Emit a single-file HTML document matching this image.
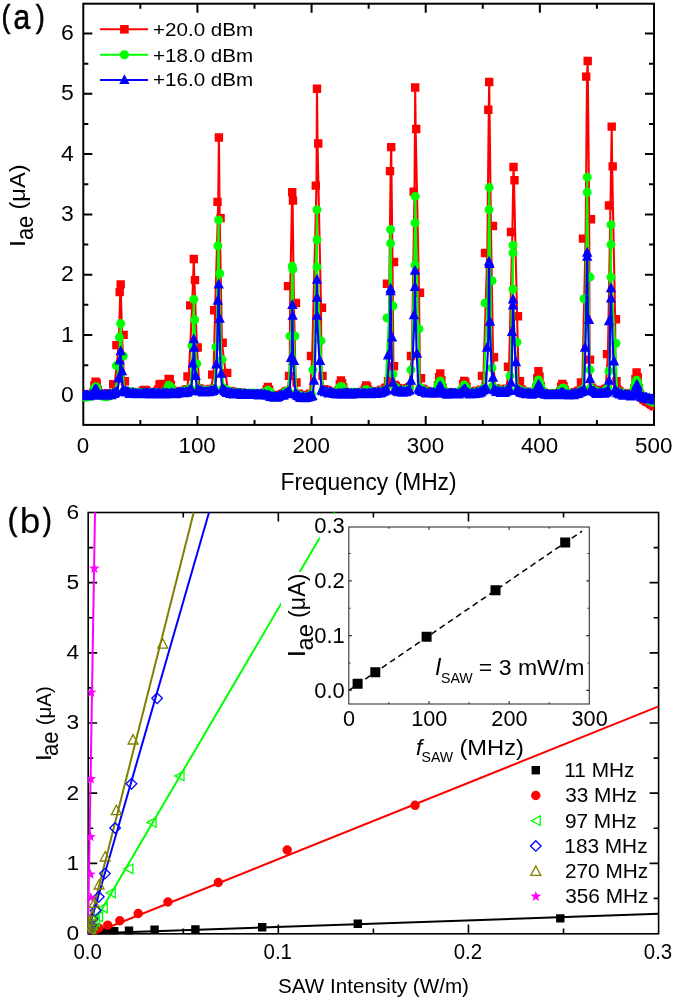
<!DOCTYPE html>
<html><head><meta charset="utf-8"><style>
html,body{margin:0;padding:0;background:#fff;overflow:hidden;}
svg{display:block;will-change:transform;}
text{font-family:"Liberation Sans", sans-serif;fill:#000;}
</style></head><body>
<svg width="675" height="1001" viewBox="0 0 675 1001">
<rect width="675" height="1001" fill="#fff"/>
<rect x="83.3" y="3.7" width="570.7" height="421.2" fill="none" stroke="#000" stroke-width="2"/>
<path d="M197.44 424.9v-9M197.44 3.7v9M311.58 424.9v-9M311.58 3.7v9M425.72 424.9v-9M425.72 3.7v9M539.86 424.9v-9M539.86 3.7v9M140.37 424.9v-5M140.37 3.7v5M254.51 424.9v-5M254.51 3.7v5M368.65 424.9v-5M368.65 3.7v5M482.79 424.9v-5M482.79 3.7v5M596.93 424.9v-5M596.93 3.7v5M83.3 395.3h9M654 395.3h-9M83.3 335h9M654 335h-9M83.3 274.7h9M654 274.7h-9M83.3 214.4h9M654 214.4h-9M83.3 154.1h9M654 154.1h-9M83.3 93.8h9M654 93.8h-9M83.3 33.5h9M654 33.5h-9M83.3 365.15h5M654 365.15h-5M83.3 304.85h5M654 304.85h-5M83.3 244.55h5M654 244.55h-5M83.3 184.25h5M654 184.25h-5M83.3 123.95h5M654 123.95h-5M83.3 63.65h5M654 63.65h-5" stroke="#000" stroke-width="2" fill="none"/>
<defs><clipPath id="cpa"><rect x="82.3" y="2.3" width="572.0" height="423.6"/></clipPath></defs>
<g clip-path="url(#cpa)">
<path d="M83 395.31L84.14 394.19L85.28 394.31L86.42 395.1L87.57 394.71L88.71 394.77L89.85 394.43L90.99 394.13L92.13 394.61L93.27 392.16L94.41 385.43L95.56 381.61L96.7 383.06L97.84 390.04L98.98 393.17L100.12 393.89L101.26 394.8L102.4 393.64L103.55 393.65L104.69 394.93L105.83 394.85L106.97 393.92L108.11 393.16L109.25 393.85L110.39 393.89L111.54 393.28L114.7 384.27L118.77 345.14L120.25 292.16L120.7 284.33L122 334.9L124.06 381.26L126.37 391.13L127.51 391.45L128.66 391.59L129.8 391.86L130.94 392.55L132.08 392.76L133.22 392.95L134.36 392.7L135.5 393.06L136.65 393.56L137.79 392.35L138.93 392.84L140.07 392.73L141.21 393.34L142.35 391.46L143.49 390.22L144.64 390.03L145.78 390.08L146.92 391.09L148.06 392.28L149.2 392.32L150.34 393.19L151.48 392.55L152.63 392.8L153.77 393.36L154.91 392.9L156.05 392.29L157.19 391.47L158.33 389.16L159.47 384.65L160.62 383.89L161.76 386.78L162.9 389.99L164.04 392.47L165.18 392.92L166.32 390.43L167.46 384.99L168.61 378.96L169.75 379.23L170.89 385.01L172.03 390.15L173.17 391.7L174.31 392.43L175.45 392.59L176.59 392.36L177.74 392.97L178.88 392.83L180.02 391.65L181.16 391.04L182.3 391.44L183.44 391.48L184.58 391.5L185.73 390.55L186.87 389.24L188.76 376.44L192.18 305.4L193.8 259.05L194.34 280.12L196.92 347.54L199.42 388.48L200.56 389.5L201.71 389.47L202.85 390.78L203.99 390.54L205.13 389.96L206.27 390.56L207.41 390.66L208.55 390.78L209.7 390.04L210.84 388.96L213.54 374.63L215.14 310.22L218.27 201.86L218.9 137.45L219.66 218.11L221.94 342.73L225.54 372.83L227.96 391.6L229.1 390.87L230.24 391.19L231.38 391.39L232.52 391.87L233.66 391.97L234.81 392.59L235.95 392.67L237.09 393L238.23 393.69L239.37 392.51L240.51 393.06L241.65 393.71L242.8 393.29L243.94 393.37L245.08 393.62L246.22 393.68L247.36 393.42L248.5 393.32L249.64 393.37L250.79 393.64L251.93 394.34L253.07 394.04L254.21 394.15L255.35 393.53L256.49 393.11L257.63 393.22L258.78 393.23L259.92 393.21L261.06 394.09L262.2 393.19L263.34 393.48L264.48 394L265.62 392.43L266.77 389.5L267.91 386.88L269.05 389.78L270.19 393.48L271.33 394.83L272.47 396.19L273.61 397.12L274.76 396.96L275.9 396.11L277.04 396.38L278.18 395.89L279.32 394.85L280.46 394.83L281.6 394.53L282.75 393.7L283.89 393.72L285.03 392.32L286.17 391.34L287.31 391.04L289.64 375.84L290.31 286.14L292.2 192.23L292.56 200.66L293.91 303L295.64 382.46L297.58 394.06L298.72 393.7L299.87 394.94L301.01 395.85L302.15 395.52L303.29 395.33L304.43 396.61L305.57 396.53L306.71 396.13L307.86 394.9L309 395.27L310.14 393.7L312.2 355.97L316.46 185.61L317 88.68L317.54 143.47L321 307.81L321.4 375.84L323.84 389.17L324.98 389.81L326.12 390.94L327.26 390.24L328.4 390.9L329.54 391.64L330.68 392.33L331.83 391.86L332.97 392.41L334.11 392.25L335.25 392.75L336.39 392.29L337.53 392.73L338.67 390.12L339.81 384.21L340.96 380.4L342.1 383.14L343.24 387.56L344.38 391.92L345.52 392.03L346.66 392.52L347.8 393.06L348.95 393.33L350.09 393.71L351.23 392.35L352.37 393.67L353.51 392.44L354.65 392.21L355.79 392.82L356.94 393.43L358.08 392.33L359.22 392.15L360.36 392.55L361.5 392.79L362.64 392.65L363.78 391.31L364.93 388.6L366.07 385.52L367.21 386.95L368.35 390.35L369.49 392.45L370.63 392.12L371.77 392.72L372.92 392.32L374.06 392.48L375.2 391.49L376.34 391.29L377.48 392.48L378.62 391.96L379.76 391.47L380.91 390.07L382.05 389.92L383.19 390.01L384.33 389.43L385.47 387.7L388.64 381.26L389.31 283.73L390.66 171.16L391.2 147.08L392.46 262.06L393.44 366.21L394.6 384.85L395.74 386.08L396.88 388.09L398.03 388.06L399.17 388.94L400.31 389.64L401.45 389.08L402.59 390.35L403.73 389.55L404.87 390.39L406.02 389.95L407.16 388.32L408.3 388.73L409.44 386.92L411.84 355.97L414.52 191.63L415.2 87.48L415.65 129.02L419.04 292.76L419.84 378.25L422 388.63L423.14 389.09L424.28 390.48L425.42 391.02L426.56 391.49L427.7 390.9L428.84 391.56L429.99 391.22L431.13 391.49L432.27 392.81L433.41 392.27L434.55 393.05L435.69 393L436.83 391.51L437.98 385.19L439.12 377.08L440.26 373.52L441.4 380.11L442.54 387.65L443.68 391.34L444.82 392.95L445.97 392.8L447.11 393.37L448.25 393.6L449.39 393.32L450.53 392.36L451.67 392.87L452.81 392.31L453.95 393.04L455.1 393.33L456.24 392.52L457.38 392.45L458.52 393.71L459.66 392.6L460.8 392.95L461.94 390.51L463.09 384.08L464.23 381L465.37 382.41L466.51 386.78L467.65 391.41L468.79 393.02L469.93 393.05L471.08 392.86L472.22 391.96L473.36 392.83L474.5 391.4L475.64 392.04L476.78 390.86L477.92 390.65L479.07 391.21L480.21 390.77L481.35 389.76L483.44 375.84L487.31 253.03L488.8 109.75L489.2 82.06L490.91 225.94L493.04 357.18L495.05 388.36L496.19 388.45L497.33 390.1L498.47 390.63L499.61 389.43L500.75 390.68L501.89 390.27L503.04 390.43L504.18 390.45L505.32 390.49L506.46 388.63L509.1 366.81L512.38 231.96L513.5 166.94L513.95 180.19L517.1 316.24L518.7 381.26L521.3 389.78L522.44 390.36L523.58 392.16L524.72 392.35L525.86 392.01L527 391.67L528.15 392.55L529.29 392.47L530.43 392.65L531.57 393.39L532.71 393.03L533.85 393.31L534.99 392.25L536.14 387.76L537.28 378.27L538.42 371.16L539.56 376.76L540.7 385.92L541.84 391.53L542.98 392.67L544.13 393.8L545.27 393.99L546.41 393.99L547.55 394.04L548.69 393.24L549.83 393.2L550.97 394.15L552.12 394.12L553.26 393.82L554.4 393.78L555.54 393.77L556.68 394.32L557.82 394.61L558.96 393.69L560.11 391.65L561.25 386.37L562.39 383.98L563.53 386.14L564.67 389.92L565.81 393.24L566.95 393.22L568.09 393.75L569.24 393.11L570.38 394.13L571.52 393.48L572.66 392.88L573.8 393.82L574.94 392.23L576.08 393.15L577.23 391.84L578.37 391.03L579.51 390.65L582.34 382.46L585.59 238.58L587.03 76.64L587.7 60.99L589.19 219.32L589.54 359.58L592.06 387.79L593.21 389.46L594.35 389.84L595.49 389.94L596.63 391.43L597.77 390.82L598.91 392.17L600.05 391.01L601.2 392.29L602.34 391.61L603.48 390.29L604.62 389.83L605.76 388.81L607.94 354.17L610.49 205.47L611.7 126.61L612.15 166.34L615.14 319.25L615.54 381.26L617.18 389.46L618.32 390.64L619.46 391.52L620.6 392.93L621.74 393.01L622.88 393.82L624.02 393.25L625.16 393.56L626.31 394.41L627.45 394.87L628.59 393.6L629.73 393.96L630.87 394.46L632.01 394.4L633.15 392.77L634.3 388.53L635.44 378.96L636.58 372.36L637.72 377.18L638.86 388.01L640 394L641.14 397L642.29 397.84L643.43 399.46L644.57 399.8L645.71 400.93L646.85 401.75L647.99 402.33L649.13 402.22L650.28 403.69L651.42 404.47L652.56 404.92L653.7 406.3" fill="none" stroke="#ff0000" stroke-width="2.1" stroke-linejoin="round"/>
<path d="M78.8 391.11h8.4v8.4h-8.4zM79.94 389.99h8.4v8.4h-8.4zM81.08 390.11h8.4v8.4h-8.4zM82.22 390.9h8.4v8.4h-8.4zM83.37 390.51h8.4v8.4h-8.4zM84.51 390.57h8.4v8.4h-8.4zM85.65 390.23h8.4v8.4h-8.4zM86.79 389.93h8.4v8.4h-8.4zM87.93 390.41h8.4v8.4h-8.4zM89.07 387.96h8.4v8.4h-8.4zM90.21 381.23h8.4v8.4h-8.4zM91.36 377.41h8.4v8.4h-8.4zM92.5 378.86h8.4v8.4h-8.4zM93.64 385.84h8.4v8.4h-8.4zM94.78 388.97h8.4v8.4h-8.4zM95.92 389.69h8.4v8.4h-8.4zM97.06 390.6h8.4v8.4h-8.4zM98.2 389.44h8.4v8.4h-8.4zM99.35 389.45h8.4v8.4h-8.4zM100.49 390.73h8.4v8.4h-8.4zM101.63 390.65h8.4v8.4h-8.4zM102.77 389.72h8.4v8.4h-8.4zM103.91 388.96h8.4v8.4h-8.4zM105.05 389.65h8.4v8.4h-8.4zM106.19 389.69h8.4v8.4h-8.4zM107.34 389.08h8.4v8.4h-8.4zM109 380.07h8.4v8.4h-8.4zM112.2 340.94h8.4v8.4h-8.4zM115.5 287.96h8.4v8.4h-8.4zM116.5 280.13h8.4v8.4h-8.4zM119.4 330.7h8.4v8.4h-8.4zM120.7 377.06h8.4v8.4h-8.4zM122.17 386.93h8.4v8.4h-8.4zM123.31 387.25h8.4v8.4h-8.4zM124.46 387.39h8.4v8.4h-8.4zM125.6 387.66h8.4v8.4h-8.4zM126.74 388.35h8.4v8.4h-8.4zM127.88 388.56h8.4v8.4h-8.4zM129.02 388.75h8.4v8.4h-8.4zM130.16 388.5h8.4v8.4h-8.4zM131.3 388.86h8.4v8.4h-8.4zM132.45 389.36h8.4v8.4h-8.4zM133.59 388.15h8.4v8.4h-8.4zM134.73 388.64h8.4v8.4h-8.4zM135.87 388.53h8.4v8.4h-8.4zM137.01 389.14h8.4v8.4h-8.4zM138.15 387.26h8.4v8.4h-8.4zM139.29 386.02h8.4v8.4h-8.4zM140.44 385.83h8.4v8.4h-8.4zM141.58 385.88h8.4v8.4h-8.4zM142.72 386.89h8.4v8.4h-8.4zM143.86 388.08h8.4v8.4h-8.4zM145 388.12h8.4v8.4h-8.4zM146.14 388.99h8.4v8.4h-8.4zM147.28 388.35h8.4v8.4h-8.4zM148.43 388.6h8.4v8.4h-8.4zM149.57 389.16h8.4v8.4h-8.4zM150.71 388.7h8.4v8.4h-8.4zM151.85 388.09h8.4v8.4h-8.4zM152.99 387.27h8.4v8.4h-8.4zM154.13 384.96h8.4v8.4h-8.4zM155.27 380.45h8.4v8.4h-8.4zM156.42 379.69h8.4v8.4h-8.4zM157.56 382.58h8.4v8.4h-8.4zM158.7 385.79h8.4v8.4h-8.4zM159.84 388.27h8.4v8.4h-8.4zM160.98 388.72h8.4v8.4h-8.4zM162.12 386.23h8.4v8.4h-8.4zM163.26 380.79h8.4v8.4h-8.4zM164.41 374.76h8.4v8.4h-8.4zM165.55 375.03h8.4v8.4h-8.4zM166.69 380.81h8.4v8.4h-8.4zM167.83 385.95h8.4v8.4h-8.4zM168.97 387.5h8.4v8.4h-8.4zM170.11 388.23h8.4v8.4h-8.4zM171.25 388.39h8.4v8.4h-8.4zM172.39 388.16h8.4v8.4h-8.4zM173.54 388.77h8.4v8.4h-8.4zM174.68 388.63h8.4v8.4h-8.4zM175.82 387.45h8.4v8.4h-8.4zM176.96 386.84h8.4v8.4h-8.4zM178.1 387.24h8.4v8.4h-8.4zM179.24 387.28h8.4v8.4h-8.4zM180.38 387.3h8.4v8.4h-8.4zM181.53 386.35h8.4v8.4h-8.4zM182.67 385.04h8.4v8.4h-8.4zM183.3 372.24h8.4v8.4h-8.4zM186 301.2h8.4v8.4h-8.4zM189.6 254.85h8.4v8.4h-8.4zM190.8 275.92h8.4v8.4h-8.4zM193.5 343.34h8.4v8.4h-8.4zM195.22 384.28h8.4v8.4h-8.4zM196.36 385.3h8.4v8.4h-8.4zM197.51 385.27h8.4v8.4h-8.4zM198.65 386.58h8.4v8.4h-8.4zM199.79 386.34h8.4v8.4h-8.4zM200.93 385.76h8.4v8.4h-8.4zM202.07 386.36h8.4v8.4h-8.4zM203.21 386.46h8.4v8.4h-8.4zM204.35 386.58h8.4v8.4h-8.4zM205.5 385.84h8.4v8.4h-8.4zM206.64 384.76h8.4v8.4h-8.4zM208 370.43h8.4v8.4h-8.4zM210 306.02h8.4v8.4h-8.4zM213.3 197.66h8.4v8.4h-8.4zM214.7 133.25h8.4v8.4h-8.4zM216.4 213.91h8.4v8.4h-8.4zM218.5 338.53h8.4v8.4h-8.4zM223 368.63h8.4v8.4h-8.4zM223.76 387.4h8.4v8.4h-8.4zM224.9 386.67h8.4v8.4h-8.4zM226.04 386.99h8.4v8.4h-8.4zM227.18 387.19h8.4v8.4h-8.4zM228.32 387.67h8.4v8.4h-8.4zM229.46 387.77h8.4v8.4h-8.4zM230.61 388.39h8.4v8.4h-8.4zM231.75 388.47h8.4v8.4h-8.4zM232.89 388.8h8.4v8.4h-8.4zM234.03 389.49h8.4v8.4h-8.4zM235.17 388.31h8.4v8.4h-8.4zM236.31 388.86h8.4v8.4h-8.4zM237.45 389.51h8.4v8.4h-8.4zM238.6 389.09h8.4v8.4h-8.4zM239.74 389.17h8.4v8.4h-8.4zM240.88 389.42h8.4v8.4h-8.4zM242.02 389.48h8.4v8.4h-8.4zM243.16 389.22h8.4v8.4h-8.4zM244.3 389.12h8.4v8.4h-8.4zM245.44 389.17h8.4v8.4h-8.4zM246.59 389.44h8.4v8.4h-8.4zM247.73 390.14h8.4v8.4h-8.4zM248.87 389.84h8.4v8.4h-8.4zM250.01 389.95h8.4v8.4h-8.4zM251.15 389.33h8.4v8.4h-8.4zM252.29 388.91h8.4v8.4h-8.4zM253.43 389.02h8.4v8.4h-8.4zM254.58 389.03h8.4v8.4h-8.4zM255.72 389.01h8.4v8.4h-8.4zM256.86 389.89h8.4v8.4h-8.4zM258 388.99h8.4v8.4h-8.4zM259.14 389.28h8.4v8.4h-8.4zM260.28 389.8h8.4v8.4h-8.4zM261.42 388.23h8.4v8.4h-8.4zM262.57 385.3h8.4v8.4h-8.4zM263.71 382.68h8.4v8.4h-8.4zM264.85 385.58h8.4v8.4h-8.4zM265.99 389.28h8.4v8.4h-8.4zM267.13 390.63h8.4v8.4h-8.4zM268.27 391.99h8.4v8.4h-8.4zM269.41 392.92h8.4v8.4h-8.4zM270.56 392.76h8.4v8.4h-8.4zM271.7 391.91h8.4v8.4h-8.4zM272.84 392.18h8.4v8.4h-8.4zM273.98 391.69h8.4v8.4h-8.4zM275.12 390.65h8.4v8.4h-8.4zM276.26 390.63h8.4v8.4h-8.4zM277.4 390.33h8.4v8.4h-8.4zM278.55 389.5h8.4v8.4h-8.4zM279.69 389.52h8.4v8.4h-8.4zM280.83 388.12h8.4v8.4h-8.4zM281.97 387.14h8.4v8.4h-8.4zM283.11 386.84h8.4v8.4h-8.4zM284.8 371.64h8.4v8.4h-8.4zM283.8 281.94h8.4v8.4h-8.4zM288 188.03h8.4v8.4h-8.4zM288.8 196.46h8.4v8.4h-8.4zM291.8 298.8h8.4v8.4h-8.4zM292.3 378.26h8.4v8.4h-8.4zM293.38 389.86h8.4v8.4h-8.4zM294.52 389.5h8.4v8.4h-8.4zM295.67 390.74h8.4v8.4h-8.4zM296.81 391.65h8.4v8.4h-8.4zM297.95 391.32h8.4v8.4h-8.4zM299.09 391.13h8.4v8.4h-8.4zM300.23 392.41h8.4v8.4h-8.4zM301.37 392.33h8.4v8.4h-8.4zM302.51 391.93h8.4v8.4h-8.4zM303.66 390.7h8.4v8.4h-8.4zM304.8 391.07h8.4v8.4h-8.4zM305.94 389.5h8.4v8.4h-8.4zM306.8 351.77h8.4v8.4h-8.4zM311.6 181.41h8.4v8.4h-8.4zM312.8 84.48h8.4v8.4h-8.4zM314 139.27h8.4v8.4h-8.4zM317.8 303.61h8.4v8.4h-8.4zM318.3 371.64h8.4v8.4h-8.4zM319.64 384.97h8.4v8.4h-8.4zM320.78 385.61h8.4v8.4h-8.4zM321.92 386.74h8.4v8.4h-8.4zM323.06 386.04h8.4v8.4h-8.4zM324.2 386.7h8.4v8.4h-8.4zM325.34 387.44h8.4v8.4h-8.4zM326.48 388.13h8.4v8.4h-8.4zM327.63 387.66h8.4v8.4h-8.4zM328.77 388.21h8.4v8.4h-8.4zM329.91 388.05h8.4v8.4h-8.4zM331.05 388.55h8.4v8.4h-8.4zM332.19 388.09h8.4v8.4h-8.4zM333.33 388.53h8.4v8.4h-8.4zM334.47 385.92h8.4v8.4h-8.4zM335.61 380.01h8.4v8.4h-8.4zM336.76 376.2h8.4v8.4h-8.4zM337.9 378.94h8.4v8.4h-8.4zM339.04 383.36h8.4v8.4h-8.4zM340.18 387.72h8.4v8.4h-8.4zM341.32 387.83h8.4v8.4h-8.4zM342.46 388.32h8.4v8.4h-8.4zM343.6 388.86h8.4v8.4h-8.4zM344.75 389.13h8.4v8.4h-8.4zM345.89 389.51h8.4v8.4h-8.4zM347.03 388.15h8.4v8.4h-8.4zM348.17 389.47h8.4v8.4h-8.4zM349.31 388.24h8.4v8.4h-8.4zM350.45 388.01h8.4v8.4h-8.4zM351.59 388.62h8.4v8.4h-8.4zM352.74 389.23h8.4v8.4h-8.4zM353.88 388.13h8.4v8.4h-8.4zM355.02 387.95h8.4v8.4h-8.4zM356.16 388.35h8.4v8.4h-8.4zM357.3 388.59h8.4v8.4h-8.4zM358.44 388.45h8.4v8.4h-8.4zM359.58 387.11h8.4v8.4h-8.4zM360.73 384.4h8.4v8.4h-8.4zM361.87 381.32h8.4v8.4h-8.4zM363.01 382.75h8.4v8.4h-8.4zM364.15 386.15h8.4v8.4h-8.4zM365.29 388.25h8.4v8.4h-8.4zM366.43 387.92h8.4v8.4h-8.4zM367.57 388.52h8.4v8.4h-8.4zM368.72 388.12h8.4v8.4h-8.4zM369.86 388.28h8.4v8.4h-8.4zM371 387.29h8.4v8.4h-8.4zM372.14 387.09h8.4v8.4h-8.4zM373.28 388.28h8.4v8.4h-8.4zM374.42 387.76h8.4v8.4h-8.4zM375.56 387.27h8.4v8.4h-8.4zM376.71 385.87h8.4v8.4h-8.4zM377.85 385.72h8.4v8.4h-8.4zM378.99 385.81h8.4v8.4h-8.4zM380.13 385.23h8.4v8.4h-8.4zM381.27 383.5h8.4v8.4h-8.4zM383.8 377.06h8.4v8.4h-8.4zM382.8 279.53h8.4v8.4h-8.4zM385.8 166.96h8.4v8.4h-8.4zM387 142.88h8.4v8.4h-8.4zM389.8 257.86h8.4v8.4h-8.4zM389.8 362.01h8.4v8.4h-8.4zM390.4 380.65h8.4v8.4h-8.4zM391.54 381.88h8.4v8.4h-8.4zM392.68 383.89h8.4v8.4h-8.4zM393.83 383.86h8.4v8.4h-8.4zM394.97 384.74h8.4v8.4h-8.4zM396.11 385.44h8.4v8.4h-8.4zM397.25 384.88h8.4v8.4h-8.4zM398.39 386.15h8.4v8.4h-8.4zM399.53 385.35h8.4v8.4h-8.4zM400.67 386.19h8.4v8.4h-8.4zM401.82 385.75h8.4v8.4h-8.4zM402.96 384.12h8.4v8.4h-8.4zM404.1 384.53h8.4v8.4h-8.4zM405.24 382.72h8.4v8.4h-8.4zM406.8 351.77h8.4v8.4h-8.4zM409.5 187.43h8.4v8.4h-8.4zM411 83.28h8.4v8.4h-8.4zM412 124.82h8.4v8.4h-8.4zM415.8 288.56h8.4v8.4h-8.4zM416.8 374.05h8.4v8.4h-8.4zM417.8 384.43h8.4v8.4h-8.4zM418.94 384.89h8.4v8.4h-8.4zM420.08 386.28h8.4v8.4h-8.4zM421.22 386.82h8.4v8.4h-8.4zM422.36 387.29h8.4v8.4h-8.4zM423.5 386.7h8.4v8.4h-8.4zM424.64 387.36h8.4v8.4h-8.4zM425.79 387.02h8.4v8.4h-8.4zM426.93 387.29h8.4v8.4h-8.4zM428.07 388.61h8.4v8.4h-8.4zM429.21 388.07h8.4v8.4h-8.4zM430.35 388.85h8.4v8.4h-8.4zM431.49 388.8h8.4v8.4h-8.4zM432.63 387.31h8.4v8.4h-8.4zM433.78 380.99h8.4v8.4h-8.4zM434.92 372.88h8.4v8.4h-8.4zM436.06 369.32h8.4v8.4h-8.4zM437.2 375.91h8.4v8.4h-8.4zM438.34 383.45h8.4v8.4h-8.4zM439.48 387.14h8.4v8.4h-8.4zM440.62 388.75h8.4v8.4h-8.4zM441.77 388.6h8.4v8.4h-8.4zM442.91 389.17h8.4v8.4h-8.4zM444.05 389.4h8.4v8.4h-8.4zM445.19 389.12h8.4v8.4h-8.4zM446.33 388.16h8.4v8.4h-8.4zM447.47 388.67h8.4v8.4h-8.4zM448.61 388.11h8.4v8.4h-8.4zM449.75 388.84h8.4v8.4h-8.4zM450.9 389.13h8.4v8.4h-8.4zM452.04 388.32h8.4v8.4h-8.4zM453.18 388.25h8.4v8.4h-8.4zM454.32 389.51h8.4v8.4h-8.4zM455.46 388.4h8.4v8.4h-8.4zM456.6 388.75h8.4v8.4h-8.4zM457.74 386.31h8.4v8.4h-8.4zM458.89 379.88h8.4v8.4h-8.4zM460.03 376.8h8.4v8.4h-8.4zM461.17 378.21h8.4v8.4h-8.4zM462.31 382.58h8.4v8.4h-8.4zM463.45 387.21h8.4v8.4h-8.4zM464.59 388.82h8.4v8.4h-8.4zM465.73 388.85h8.4v8.4h-8.4zM466.88 388.66h8.4v8.4h-8.4zM468.02 387.76h8.4v8.4h-8.4zM469.16 388.63h8.4v8.4h-8.4zM470.3 387.2h8.4v8.4h-8.4zM471.44 387.84h8.4v8.4h-8.4zM472.58 386.66h8.4v8.4h-8.4zM473.72 386.45h8.4v8.4h-8.4zM474.87 387.01h8.4v8.4h-8.4zM476.01 386.57h8.4v8.4h-8.4zM477.15 385.56h8.4v8.4h-8.4zM477.8 371.64h8.4v8.4h-8.4zM480.8 248.83h8.4v8.4h-8.4zM484.1 105.55h8.4v8.4h-8.4zM485 77.86h8.4v8.4h-8.4zM488.8 221.74h8.4v8.4h-8.4zM489.8 352.98h8.4v8.4h-8.4zM490.85 384.16h8.4v8.4h-8.4zM491.99 384.25h8.4v8.4h-8.4zM493.13 385.9h8.4v8.4h-8.4zM494.27 386.43h8.4v8.4h-8.4zM495.41 385.23h8.4v8.4h-8.4zM496.55 386.48h8.4v8.4h-8.4zM497.69 386.07h8.4v8.4h-8.4zM498.84 386.23h8.4v8.4h-8.4zM499.98 386.25h8.4v8.4h-8.4zM501.12 386.29h8.4v8.4h-8.4zM502.26 384.43h8.4v8.4h-8.4zM503.8 362.61h8.4v8.4h-8.4zM506.8 227.76h8.4v8.4h-8.4zM509.3 162.74h8.4v8.4h-8.4zM510.3 175.99h8.4v8.4h-8.4zM513.8 312.04h8.4v8.4h-8.4zM515.8 377.06h8.4v8.4h-8.4zM517.1 385.58h8.4v8.4h-8.4zM518.24 386.16h8.4v8.4h-8.4zM519.38 387.96h8.4v8.4h-8.4zM520.52 388.15h8.4v8.4h-8.4zM521.66 387.81h8.4v8.4h-8.4zM522.8 387.47h8.4v8.4h-8.4zM523.95 388.35h8.4v8.4h-8.4zM525.09 388.27h8.4v8.4h-8.4zM526.23 388.45h8.4v8.4h-8.4zM527.37 389.19h8.4v8.4h-8.4zM528.51 388.83h8.4v8.4h-8.4zM529.65 389.11h8.4v8.4h-8.4zM530.79 388.05h8.4v8.4h-8.4zM531.94 383.56h8.4v8.4h-8.4zM533.08 374.07h8.4v8.4h-8.4zM534.22 366.96h8.4v8.4h-8.4zM535.36 372.56h8.4v8.4h-8.4zM536.5 381.72h8.4v8.4h-8.4zM537.64 387.33h8.4v8.4h-8.4zM538.78 388.47h8.4v8.4h-8.4zM539.93 389.6h8.4v8.4h-8.4zM541.07 389.79h8.4v8.4h-8.4zM542.21 389.79h8.4v8.4h-8.4zM543.35 389.84h8.4v8.4h-8.4zM544.49 389.04h8.4v8.4h-8.4zM545.63 389h8.4v8.4h-8.4zM546.77 389.95h8.4v8.4h-8.4zM547.92 389.92h8.4v8.4h-8.4zM549.06 389.62h8.4v8.4h-8.4zM550.2 389.58h8.4v8.4h-8.4zM551.34 389.57h8.4v8.4h-8.4zM552.48 390.12h8.4v8.4h-8.4zM553.62 390.41h8.4v8.4h-8.4zM554.76 389.49h8.4v8.4h-8.4zM555.91 387.45h8.4v8.4h-8.4zM557.05 382.17h8.4v8.4h-8.4zM558.19 379.78h8.4v8.4h-8.4zM559.33 381.94h8.4v8.4h-8.4zM560.47 385.72h8.4v8.4h-8.4zM561.61 389.04h8.4v8.4h-8.4zM562.75 389.02h8.4v8.4h-8.4zM563.89 389.55h8.4v8.4h-8.4zM565.04 388.91h8.4v8.4h-8.4zM566.18 389.93h8.4v8.4h-8.4zM567.32 389.28h8.4v8.4h-8.4zM568.46 388.68h8.4v8.4h-8.4zM569.6 389.62h8.4v8.4h-8.4zM570.74 388.03h8.4v8.4h-8.4zM571.88 388.95h8.4v8.4h-8.4zM573.03 387.64h8.4v8.4h-8.4zM574.17 386.83h8.4v8.4h-8.4zM575.31 386.45h8.4v8.4h-8.4zM576.8 378.26h8.4v8.4h-8.4zM578.8 234.38h8.4v8.4h-8.4zM582 72.44h8.4v8.4h-8.4zM583.5 56.79h8.4v8.4h-8.4zM586.8 215.12h8.4v8.4h-8.4zM585.8 355.38h8.4v8.4h-8.4zM587.86 383.59h8.4v8.4h-8.4zM589.01 385.26h8.4v8.4h-8.4zM590.15 385.64h8.4v8.4h-8.4zM591.29 385.74h8.4v8.4h-8.4zM592.43 387.23h8.4v8.4h-8.4zM593.57 386.62h8.4v8.4h-8.4zM594.71 387.97h8.4v8.4h-8.4zM595.85 386.81h8.4v8.4h-8.4zM597 388.09h8.4v8.4h-8.4zM598.14 387.41h8.4v8.4h-8.4zM599.28 386.09h8.4v8.4h-8.4zM600.42 385.63h8.4v8.4h-8.4zM601.56 384.61h8.4v8.4h-8.4zM602.8 349.97h8.4v8.4h-8.4zM604.8 201.27h8.4v8.4h-8.4zM607.5 122.41h8.4v8.4h-8.4zM608.5 162.14h8.4v8.4h-8.4zM611.8 315.05h8.4v8.4h-8.4zM612.3 377.06h8.4v8.4h-8.4zM612.98 385.26h8.4v8.4h-8.4zM614.12 386.44h8.4v8.4h-8.4zM615.26 387.32h8.4v8.4h-8.4zM616.4 388.73h8.4v8.4h-8.4zM617.54 388.81h8.4v8.4h-8.4zM618.68 389.62h8.4v8.4h-8.4zM619.82 389.05h8.4v8.4h-8.4zM620.96 389.36h8.4v8.4h-8.4zM622.11 390.21h8.4v8.4h-8.4zM623.25 390.67h8.4v8.4h-8.4zM624.39 389.4h8.4v8.4h-8.4zM625.53 389.76h8.4v8.4h-8.4zM626.67 390.26h8.4v8.4h-8.4zM627.81 390.2h8.4v8.4h-8.4zM628.95 388.57h8.4v8.4h-8.4zM630.1 384.33h8.4v8.4h-8.4zM631.24 374.76h8.4v8.4h-8.4zM632.38 368.16h8.4v8.4h-8.4zM633.52 372.98h8.4v8.4h-8.4zM634.66 383.81h8.4v8.4h-8.4zM635.8 389.8h8.4v8.4h-8.4zM636.94 392.8h8.4v8.4h-8.4zM638.09 393.64h8.4v8.4h-8.4zM639.23 395.26h8.4v8.4h-8.4zM640.37 395.6h8.4v8.4h-8.4zM641.51 396.73h8.4v8.4h-8.4zM642.65 397.55h8.4v8.4h-8.4zM643.79 398.13h8.4v8.4h-8.4zM644.93 398.02h8.4v8.4h-8.4zM646.08 399.49h8.4v8.4h-8.4zM647.22 400.27h8.4v8.4h-8.4zM648.36 400.72h8.4v8.4h-8.4zM649.5 402.1h8.4v8.4h-8.4z" fill="#ff0000"/>
<path d="M83 395.87L84.14 395.87L85.28 397.26L86.42 397.21L87.57 396.02L88.71 396.15L89.85 396.14L90.99 396.25L92.13 394.43L93.27 391.71L94.41 388.29L95.56 386.83L96.7 387.28L97.84 390.48L98.98 393.13L100.12 394.58L101.26 395.36L102.4 396.15L103.55 396.29L104.69 396.51L105.83 396.79L106.97 396.72L108.11 395.92L109.25 396L110.39 395.73L111.54 394.7L112.68 394.97L113.82 392.64L114.96 392.53L118.77 365.6L120.12 337.31L120.7 323.46L121.87 355.97L124.09 390.44L125.23 390.67L126.37 391.61L127.51 391.53L128.66 391.14L129.8 391.94L130.94 392.93L132.08 391.98L133.22 392.26L134.36 392.46L135.5 392.27L136.65 392.56L137.79 392.56L138.93 393.29L140.07 392.33L141.21 392.39L142.35 393.66L143.49 392.74L144.64 392.81L145.78 393.21L146.92 393.11L148.06 393.17L149.2 392.49L150.34 393.15L151.48 392.63L152.63 393.37L153.77 392.53L154.91 392.49L156.05 393.17L157.19 392.99L158.33 392.42L159.47 392.71L160.62 393.06L161.76 393.45L162.9 393.23L164.04 392.41L165.18 392.52L166.32 389.73L167.46 388.33L168.61 385.35L169.75 386.22L170.89 387.06L172.03 389.79L173.17 391.69L174.31 392.33L175.45 392.28L176.59 392.35L177.74 392.7L178.88 392.76L180.02 392.16L181.16 391.35L182.3 391.66L183.44 392.29L184.58 390.84L185.73 390.63L186.87 389.88L188.01 390.39L189.15 388.75L190.29 388.89L192.99 345.74L193.8 299.38L194.21 319.85L196.2 363.8L198.28 388.66L199.42 389.99L200.56 390.61L201.71 390L202.85 391.48L203.99 391L205.13 390.58L206.27 391.55L207.41 391.54L208.55 390.35L209.7 390.82L210.84 390L211.98 390.57L213.12 389.36L214.26 388.73L216.52 346.94L218.24 245.81L218.6 219.92L219.09 273.5L221.32 359.58L223.39 387.94L224.53 389.96L225.68 389.46L226.82 391.58L227.96 390.99L229.1 392.5L230.24 392.45L231.38 391.84L232.52 393.07L233.66 393.2L234.81 392.55L235.95 393.16L237.09 393.8L238.23 392.41L239.37 393.8L240.51 394.05L241.65 393.63L242.8 393.25L243.94 393.1L245.08 394.13L246.22 393.82L247.36 394.33L248.5 393.71L249.64 393.24L250.79 393.31L251.93 393.08L253.07 393.33L254.21 393.18L255.35 393.45L256.49 393.83L257.63 394.23L258.78 393.56L259.92 394.1L261.06 394.44L262.2 393.86L263.34 393.07L264.48 393.72L265.62 391.95L266.77 391.04L267.91 390.34L269.05 391.68L270.19 392.11L271.33 394.96L272.47 395.64L273.61 396.69L274.76 397.39L275.9 396.3L277.04 396.69L278.18 396.53L279.32 396.25L280.46 395.68L281.6 395.32L282.75 393.96L283.89 393.57L285.03 392.12L286.17 391.43L287.31 390.87L288.45 391.4L291.21 336.11L292.2 266.27L292.47 269.28L293.46 336.11L296.44 393.6L297.58 395.01L298.72 395.17L299.87 395.63L301.01 395.71L302.15 396.08L303.29 396.91L304.43 396.68L305.57 396.46L306.71 397.12L307.86 396.81L309 395.84L310.14 395.75L311.28 394.03L313.8 369.82L317 209.69L317 239.79L317 266.88L320.2 340.92L322.69 390.44L323.84 391.11L324.98 391.23L326.12 391.63L327.26 392.03L328.4 391.84L329.54 392.16L330.68 392.59L331.83 392.21L332.97 393L334.11 392L335.25 391.92L336.39 392.04L337.53 391.63L338.67 389.66L339.81 387.19L340.96 386.58L342.1 386.67L343.24 388.74L344.38 391.52L345.52 393L346.66 392.42L347.8 393.25L348.95 393.04L350.09 392.41L351.23 392.9L352.37 393.4L353.51 392.31L354.65 393.26L355.79 393.81L356.94 392.75L358.08 393.66L359.22 393.31L360.36 392.43L361.5 392.52L362.64 393.07L363.78 391.46L364.93 390.35L366.07 389.52L367.21 390.23L368.35 390.65L369.49 392.46L370.63 392.69L371.77 392.73L372.92 391.84L374.06 393.1L375.2 391.93L376.34 392.69L377.48 391.93L378.62 392.02L379.76 391.67L380.91 390.92L382.05 391.09L383.19 391.03L384.33 390.4L385.47 389.64L388.98 318.05L390.6 229.55L390.6 243.4L391.68 306.01L392.52 374.03L394.6 386.33L395.74 387.78L396.88 388.17L398.03 389.25L399.17 390.77L400.31 390.09L401.45 390.1L402.59 390.26L403.73 390.59L404.87 390.68L406.02 390.29L407.16 389.37L408.3 389.65L409.44 388.49L411.84 369.82L415.11 222.93L415.11 265.07L415.2 196.44L418.24 328.88L419.71 387.75L420.85 388.12L422 389.24L423.14 389.71L424.28 390.39L425.42 391.63L426.56 392.05L427.7 391.9L428.84 392.46L429.99 392.36L431.13 392.1L432.27 391.83L433.41 392.41L434.55 391.91L435.69 392.3L436.83 389.82L437.98 385.16L439.12 382.67L440.26 380.94L441.4 383.79L442.54 387.86L443.68 389.94L444.82 391.52L445.97 392.65L447.11 393.62L448.25 393.39L449.39 393.51L450.53 392.83L451.67 392.82L452.81 393.2L453.95 393.07L455.1 393.71L456.24 393.03L457.38 392.37L458.52 392.6L459.66 393.3L460.8 391.67L461.94 389.38L463.09 387.54L464.23 384.91L465.37 386.17L466.51 388.06L467.65 390.85L468.79 391.3L469.93 392.13L471.08 392.54L472.22 393.15L473.36 392.58L474.5 393.09L475.64 392.04L476.78 391.39L477.92 392.24L479.07 391.4L480.21 391.03L481.35 390.62L482.49 389.44L483.63 388.19L487.31 303L489.11 209.69L489.2 187.41L490.46 280.72L491.44 368.01L492.76 386.22L493.9 387.88L495.05 388.14L496.19 389.91L497.33 389.83L498.47 390.36L499.61 390.46L500.75 390.47L501.89 391.5L503.04 390.83L504.18 391.01L505.32 390.32L506.46 389.41L507.6 389.33L508.74 389.48L510.6 375.84L513 245.2L513 253.03L513 289.15L514.8 342.13L517.87 388.81L519.01 389.43L520.16 389.96L521.3 390.95L522.44 391.16L523.58 392.78L524.72 391.63L525.86 392.19L527 392.57L528.15 392.26L529.29 392.42L530.43 393.75L531.57 392.7L532.71 392.69L533.85 392.96L534.99 390.23L536.14 386.84L537.28 383.14L538.42 379.99L539.56 382.77L540.7 386.3L541.84 390.53L542.98 393.05L544.13 393.42L545.27 393.82L546.41 394.3L547.55 393.15L548.69 394.58L549.83 394.71L550.97 393.98L552.12 393.46L553.26 393.76L554.4 393.63L555.54 394.05L556.68 393.69L557.82 393.92L558.96 393.11L560.11 390.96L561.25 389.56L562.39 388.32L563.53 388.02L564.67 390.97L565.81 391.99L566.95 393.01L568.09 393.99L569.24 393.62L570.38 393.4L571.52 393.19L572.66 394.23L573.8 394.04L574.94 393.52L576.08 393.17L577.23 393.14L578.37 393.19L579.51 391.83L580.65 390.52L581.79 390.58L582.93 389.18L585.76 298.78L587.2 177.18L587.2 192.23L588.46 277.11L589.44 369.82L590.92 387.85L592.06 389.1L593.21 389.52L594.35 391.21L595.49 391.28L596.63 391.95L597.77 392.13L598.91 391.69L600.05 393.04L601.2 391.8L602.34 392.43L603.48 391.58L604.62 390.86L605.76 390.4L606.9 389.89L608.04 388.03L609.4 371.02L611 224.74L611 244.6L611 277.11L615 343.33L617.18 391.73L618.32 391.71L619.46 392.72L620.6 392.99L621.74 392.87L622.88 393.25L624.02 393.76L625.16 394.45L626.31 394.73L627.45 394.51L628.59 394.97L629.73 394.97L630.87 393.81L632.01 394.45L633.15 391.25L634.3 387.82L635.44 382.87L636.58 380.29L637.72 382.51L638.86 386.94L640 392.47L641.14 395.26L642.29 397.08L643.43 396.96L644.57 397.5L645.71 398.79L646.85 399.01L647.99 399.09L649.13 400.56L650.28 401.44L651.42 401.75L652.56 402.35L653.7 402.11" fill="none" stroke="#00ff00" stroke-width="2.1" stroke-linejoin="round"/>
<path d="M78.5 395.87a4.5 4.5 0 1 0 9 0a4.5 4.5 0 1 0 -9 0zM79.64 395.87a4.5 4.5 0 1 0 9 0a4.5 4.5 0 1 0 -9 0zM80.78 397.26a4.5 4.5 0 1 0 9 0a4.5 4.5 0 1 0 -9 0zM81.92 397.21a4.5 4.5 0 1 0 9 0a4.5 4.5 0 1 0 -9 0zM83.07 396.02a4.5 4.5 0 1 0 9 0a4.5 4.5 0 1 0 -9 0zM84.21 396.15a4.5 4.5 0 1 0 9 0a4.5 4.5 0 1 0 -9 0zM85.35 396.14a4.5 4.5 0 1 0 9 0a4.5 4.5 0 1 0 -9 0zM86.49 396.25a4.5 4.5 0 1 0 9 0a4.5 4.5 0 1 0 -9 0zM87.63 394.43a4.5 4.5 0 1 0 9 0a4.5 4.5 0 1 0 -9 0zM88.77 391.71a4.5 4.5 0 1 0 9 0a4.5 4.5 0 1 0 -9 0zM89.91 388.29a4.5 4.5 0 1 0 9 0a4.5 4.5 0 1 0 -9 0zM91.06 386.83a4.5 4.5 0 1 0 9 0a4.5 4.5 0 1 0 -9 0zM92.2 387.28a4.5 4.5 0 1 0 9 0a4.5 4.5 0 1 0 -9 0zM93.34 390.48a4.5 4.5 0 1 0 9 0a4.5 4.5 0 1 0 -9 0zM94.48 393.13a4.5 4.5 0 1 0 9 0a4.5 4.5 0 1 0 -9 0zM95.62 394.58a4.5 4.5 0 1 0 9 0a4.5 4.5 0 1 0 -9 0zM96.76 395.36a4.5 4.5 0 1 0 9 0a4.5 4.5 0 1 0 -9 0zM97.9 396.15a4.5 4.5 0 1 0 9 0a4.5 4.5 0 1 0 -9 0zM99.05 396.29a4.5 4.5 0 1 0 9 0a4.5 4.5 0 1 0 -9 0zM100.19 396.51a4.5 4.5 0 1 0 9 0a4.5 4.5 0 1 0 -9 0zM101.33 396.79a4.5 4.5 0 1 0 9 0a4.5 4.5 0 1 0 -9 0zM102.47 396.72a4.5 4.5 0 1 0 9 0a4.5 4.5 0 1 0 -9 0zM103.61 395.92a4.5 4.5 0 1 0 9 0a4.5 4.5 0 1 0 -9 0zM104.75 396a4.5 4.5 0 1 0 9 0a4.5 4.5 0 1 0 -9 0zM105.89 395.73a4.5 4.5 0 1 0 9 0a4.5 4.5 0 1 0 -9 0zM107.04 394.7a4.5 4.5 0 1 0 9 0a4.5 4.5 0 1 0 -9 0zM108.18 394.97a4.5 4.5 0 1 0 9 0a4.5 4.5 0 1 0 -9 0zM109.32 392.64a4.5 4.5 0 1 0 9 0a4.5 4.5 0 1 0 -9 0zM110.46 392.53a4.5 4.5 0 1 0 9 0a4.5 4.5 0 1 0 -9 0zM111.9 365.6a4.5 4.5 0 1 0 9 0a4.5 4.5 0 1 0 -9 0zM114.9 337.31a4.5 4.5 0 1 0 9 0a4.5 4.5 0 1 0 -9 0zM116.2 323.46a4.5 4.5 0 1 0 9 0a4.5 4.5 0 1 0 -9 0zM118.8 355.97a4.5 4.5 0 1 0 9 0a4.5 4.5 0 1 0 -9 0zM119.59 390.44a4.5 4.5 0 1 0 9 0a4.5 4.5 0 1 0 -9 0zM120.73 390.67a4.5 4.5 0 1 0 9 0a4.5 4.5 0 1 0 -9 0zM121.87 391.61a4.5 4.5 0 1 0 9 0a4.5 4.5 0 1 0 -9 0zM123.01 391.53a4.5 4.5 0 1 0 9 0a4.5 4.5 0 1 0 -9 0zM124.16 391.14a4.5 4.5 0 1 0 9 0a4.5 4.5 0 1 0 -9 0zM125.3 391.94a4.5 4.5 0 1 0 9 0a4.5 4.5 0 1 0 -9 0zM126.44 392.93a4.5 4.5 0 1 0 9 0a4.5 4.5 0 1 0 -9 0zM127.58 391.98a4.5 4.5 0 1 0 9 0a4.5 4.5 0 1 0 -9 0zM128.72 392.26a4.5 4.5 0 1 0 9 0a4.5 4.5 0 1 0 -9 0zM129.86 392.46a4.5 4.5 0 1 0 9 0a4.5 4.5 0 1 0 -9 0zM131 392.27a4.5 4.5 0 1 0 9 0a4.5 4.5 0 1 0 -9 0zM132.15 392.56a4.5 4.5 0 1 0 9 0a4.5 4.5 0 1 0 -9 0zM133.29 392.56a4.5 4.5 0 1 0 9 0a4.5 4.5 0 1 0 -9 0zM134.43 393.29a4.5 4.5 0 1 0 9 0a4.5 4.5 0 1 0 -9 0zM135.57 392.33a4.5 4.5 0 1 0 9 0a4.5 4.5 0 1 0 -9 0zM136.71 392.39a4.5 4.5 0 1 0 9 0a4.5 4.5 0 1 0 -9 0zM137.85 393.66a4.5 4.5 0 1 0 9 0a4.5 4.5 0 1 0 -9 0zM138.99 392.74a4.5 4.5 0 1 0 9 0a4.5 4.5 0 1 0 -9 0zM140.14 392.81a4.5 4.5 0 1 0 9 0a4.5 4.5 0 1 0 -9 0zM141.28 393.21a4.5 4.5 0 1 0 9 0a4.5 4.5 0 1 0 -9 0zM142.42 393.11a4.5 4.5 0 1 0 9 0a4.5 4.5 0 1 0 -9 0zM143.56 393.17a4.5 4.5 0 1 0 9 0a4.5 4.5 0 1 0 -9 0zM144.7 392.49a4.5 4.5 0 1 0 9 0a4.5 4.5 0 1 0 -9 0zM145.84 393.15a4.5 4.5 0 1 0 9 0a4.5 4.5 0 1 0 -9 0zM146.98 392.63a4.5 4.5 0 1 0 9 0a4.5 4.5 0 1 0 -9 0zM148.13 393.37a4.5 4.5 0 1 0 9 0a4.5 4.5 0 1 0 -9 0zM149.27 392.53a4.5 4.5 0 1 0 9 0a4.5 4.5 0 1 0 -9 0zM150.41 392.49a4.5 4.5 0 1 0 9 0a4.5 4.5 0 1 0 -9 0zM151.55 393.17a4.5 4.5 0 1 0 9 0a4.5 4.5 0 1 0 -9 0zM152.69 392.99a4.5 4.5 0 1 0 9 0a4.5 4.5 0 1 0 -9 0zM153.83 392.42a4.5 4.5 0 1 0 9 0a4.5 4.5 0 1 0 -9 0zM154.97 392.71a4.5 4.5 0 1 0 9 0a4.5 4.5 0 1 0 -9 0zM156.12 393.06a4.5 4.5 0 1 0 9 0a4.5 4.5 0 1 0 -9 0zM157.26 393.45a4.5 4.5 0 1 0 9 0a4.5 4.5 0 1 0 -9 0zM158.4 393.23a4.5 4.5 0 1 0 9 0a4.5 4.5 0 1 0 -9 0zM159.54 392.41a4.5 4.5 0 1 0 9 0a4.5 4.5 0 1 0 -9 0zM160.68 392.52a4.5 4.5 0 1 0 9 0a4.5 4.5 0 1 0 -9 0zM161.82 389.73a4.5 4.5 0 1 0 9 0a4.5 4.5 0 1 0 -9 0zM162.96 388.33a4.5 4.5 0 1 0 9 0a4.5 4.5 0 1 0 -9 0zM164.11 385.35a4.5 4.5 0 1 0 9 0a4.5 4.5 0 1 0 -9 0zM165.25 386.22a4.5 4.5 0 1 0 9 0a4.5 4.5 0 1 0 -9 0zM166.39 387.06a4.5 4.5 0 1 0 9 0a4.5 4.5 0 1 0 -9 0zM167.53 389.79a4.5 4.5 0 1 0 9 0a4.5 4.5 0 1 0 -9 0zM168.67 391.69a4.5 4.5 0 1 0 9 0a4.5 4.5 0 1 0 -9 0zM169.81 392.33a4.5 4.5 0 1 0 9 0a4.5 4.5 0 1 0 -9 0zM170.95 392.28a4.5 4.5 0 1 0 9 0a4.5 4.5 0 1 0 -9 0zM172.09 392.35a4.5 4.5 0 1 0 9 0a4.5 4.5 0 1 0 -9 0zM173.24 392.7a4.5 4.5 0 1 0 9 0a4.5 4.5 0 1 0 -9 0zM174.38 392.76a4.5 4.5 0 1 0 9 0a4.5 4.5 0 1 0 -9 0zM175.52 392.16a4.5 4.5 0 1 0 9 0a4.5 4.5 0 1 0 -9 0zM176.66 391.35a4.5 4.5 0 1 0 9 0a4.5 4.5 0 1 0 -9 0zM177.8 391.66a4.5 4.5 0 1 0 9 0a4.5 4.5 0 1 0 -9 0zM178.94 392.29a4.5 4.5 0 1 0 9 0a4.5 4.5 0 1 0 -9 0zM180.08 390.84a4.5 4.5 0 1 0 9 0a4.5 4.5 0 1 0 -9 0zM181.23 390.63a4.5 4.5 0 1 0 9 0a4.5 4.5 0 1 0 -9 0zM182.37 389.88a4.5 4.5 0 1 0 9 0a4.5 4.5 0 1 0 -9 0zM183.51 390.39a4.5 4.5 0 1 0 9 0a4.5 4.5 0 1 0 -9 0zM184.65 388.75a4.5 4.5 0 1 0 9 0a4.5 4.5 0 1 0 -9 0zM185.79 388.89a4.5 4.5 0 1 0 9 0a4.5 4.5 0 1 0 -9 0zM187.5 345.74a4.5 4.5 0 1 0 9 0a4.5 4.5 0 1 0 -9 0zM189.3 299.38a4.5 4.5 0 1 0 9 0a4.5 4.5 0 1 0 -9 0zM190.2 319.85a4.5 4.5 0 1 0 9 0a4.5 4.5 0 1 0 -9 0zM192.3 363.8a4.5 4.5 0 1 0 9 0a4.5 4.5 0 1 0 -9 0zM193.78 388.66a4.5 4.5 0 1 0 9 0a4.5 4.5 0 1 0 -9 0zM194.92 389.99a4.5 4.5 0 1 0 9 0a4.5 4.5 0 1 0 -9 0zM196.06 390.61a4.5 4.5 0 1 0 9 0a4.5 4.5 0 1 0 -9 0zM197.21 390a4.5 4.5 0 1 0 9 0a4.5 4.5 0 1 0 -9 0zM198.35 391.48a4.5 4.5 0 1 0 9 0a4.5 4.5 0 1 0 -9 0zM199.49 391a4.5 4.5 0 1 0 9 0a4.5 4.5 0 1 0 -9 0zM200.63 390.58a4.5 4.5 0 1 0 9 0a4.5 4.5 0 1 0 -9 0zM201.77 391.55a4.5 4.5 0 1 0 9 0a4.5 4.5 0 1 0 -9 0zM202.91 391.54a4.5 4.5 0 1 0 9 0a4.5 4.5 0 1 0 -9 0zM204.05 390.35a4.5 4.5 0 1 0 9 0a4.5 4.5 0 1 0 -9 0zM205.2 390.82a4.5 4.5 0 1 0 9 0a4.5 4.5 0 1 0 -9 0zM206.34 390a4.5 4.5 0 1 0 9 0a4.5 4.5 0 1 0 -9 0zM207.48 390.57a4.5 4.5 0 1 0 9 0a4.5 4.5 0 1 0 -9 0zM208.62 389.36a4.5 4.5 0 1 0 9 0a4.5 4.5 0 1 0 -9 0zM209.76 388.73a4.5 4.5 0 1 0 9 0a4.5 4.5 0 1 0 -9 0zM211.5 346.94a4.5 4.5 0 1 0 9 0a4.5 4.5 0 1 0 -9 0zM213.3 245.81a4.5 4.5 0 1 0 9 0a4.5 4.5 0 1 0 -9 0zM214.1 219.92a4.5 4.5 0 1 0 9 0a4.5 4.5 0 1 0 -9 0zM215.2 273.5a4.5 4.5 0 1 0 9 0a4.5 4.5 0 1 0 -9 0zM217.5 359.58a4.5 4.5 0 1 0 9 0a4.5 4.5 0 1 0 -9 0zM218.89 387.94a4.5 4.5 0 1 0 9 0a4.5 4.5 0 1 0 -9 0zM220.03 389.96a4.5 4.5 0 1 0 9 0a4.5 4.5 0 1 0 -9 0zM221.18 389.46a4.5 4.5 0 1 0 9 0a4.5 4.5 0 1 0 -9 0zM222.32 391.58a4.5 4.5 0 1 0 9 0a4.5 4.5 0 1 0 -9 0zM223.46 390.99a4.5 4.5 0 1 0 9 0a4.5 4.5 0 1 0 -9 0zM224.6 392.5a4.5 4.5 0 1 0 9 0a4.5 4.5 0 1 0 -9 0zM225.74 392.45a4.5 4.5 0 1 0 9 0a4.5 4.5 0 1 0 -9 0zM226.88 391.84a4.5 4.5 0 1 0 9 0a4.5 4.5 0 1 0 -9 0zM228.02 393.07a4.5 4.5 0 1 0 9 0a4.5 4.5 0 1 0 -9 0zM229.16 393.2a4.5 4.5 0 1 0 9 0a4.5 4.5 0 1 0 -9 0zM230.31 392.55a4.5 4.5 0 1 0 9 0a4.5 4.5 0 1 0 -9 0zM231.45 393.16a4.5 4.5 0 1 0 9 0a4.5 4.5 0 1 0 -9 0zM232.59 393.8a4.5 4.5 0 1 0 9 0a4.5 4.5 0 1 0 -9 0zM233.73 392.41a4.5 4.5 0 1 0 9 0a4.5 4.5 0 1 0 -9 0zM234.87 393.8a4.5 4.5 0 1 0 9 0a4.5 4.5 0 1 0 -9 0zM236.01 394.05a4.5 4.5 0 1 0 9 0a4.5 4.5 0 1 0 -9 0zM237.15 393.63a4.5 4.5 0 1 0 9 0a4.5 4.5 0 1 0 -9 0zM238.3 393.25a4.5 4.5 0 1 0 9 0a4.5 4.5 0 1 0 -9 0zM239.44 393.1a4.5 4.5 0 1 0 9 0a4.5 4.5 0 1 0 -9 0zM240.58 394.13a4.5 4.5 0 1 0 9 0a4.5 4.5 0 1 0 -9 0zM241.72 393.82a4.5 4.5 0 1 0 9 0a4.5 4.5 0 1 0 -9 0zM242.86 394.33a4.5 4.5 0 1 0 9 0a4.5 4.5 0 1 0 -9 0zM244 393.71a4.5 4.5 0 1 0 9 0a4.5 4.5 0 1 0 -9 0zM245.14 393.24a4.5 4.5 0 1 0 9 0a4.5 4.5 0 1 0 -9 0zM246.29 393.31a4.5 4.5 0 1 0 9 0a4.5 4.5 0 1 0 -9 0zM247.43 393.08a4.5 4.5 0 1 0 9 0a4.5 4.5 0 1 0 -9 0zM248.57 393.33a4.5 4.5 0 1 0 9 0a4.5 4.5 0 1 0 -9 0zM249.71 393.18a4.5 4.5 0 1 0 9 0a4.5 4.5 0 1 0 -9 0zM250.85 393.45a4.5 4.5 0 1 0 9 0a4.5 4.5 0 1 0 -9 0zM251.99 393.83a4.5 4.5 0 1 0 9 0a4.5 4.5 0 1 0 -9 0zM253.13 394.23a4.5 4.5 0 1 0 9 0a4.5 4.5 0 1 0 -9 0zM254.28 393.56a4.5 4.5 0 1 0 9 0a4.5 4.5 0 1 0 -9 0zM255.42 394.1a4.5 4.5 0 1 0 9 0a4.5 4.5 0 1 0 -9 0zM256.56 394.44a4.5 4.5 0 1 0 9 0a4.5 4.5 0 1 0 -9 0zM257.7 393.86a4.5 4.5 0 1 0 9 0a4.5 4.5 0 1 0 -9 0zM258.84 393.07a4.5 4.5 0 1 0 9 0a4.5 4.5 0 1 0 -9 0zM259.98 393.72a4.5 4.5 0 1 0 9 0a4.5 4.5 0 1 0 -9 0zM261.12 391.95a4.5 4.5 0 1 0 9 0a4.5 4.5 0 1 0 -9 0zM262.27 391.04a4.5 4.5 0 1 0 9 0a4.5 4.5 0 1 0 -9 0zM263.41 390.34a4.5 4.5 0 1 0 9 0a4.5 4.5 0 1 0 -9 0zM264.55 391.68a4.5 4.5 0 1 0 9 0a4.5 4.5 0 1 0 -9 0zM265.69 392.11a4.5 4.5 0 1 0 9 0a4.5 4.5 0 1 0 -9 0zM266.83 394.96a4.5 4.5 0 1 0 9 0a4.5 4.5 0 1 0 -9 0zM267.97 395.64a4.5 4.5 0 1 0 9 0a4.5 4.5 0 1 0 -9 0zM269.11 396.69a4.5 4.5 0 1 0 9 0a4.5 4.5 0 1 0 -9 0zM270.26 397.39a4.5 4.5 0 1 0 9 0a4.5 4.5 0 1 0 -9 0zM271.4 396.3a4.5 4.5 0 1 0 9 0a4.5 4.5 0 1 0 -9 0zM272.54 396.69a4.5 4.5 0 1 0 9 0a4.5 4.5 0 1 0 -9 0zM273.68 396.53a4.5 4.5 0 1 0 9 0a4.5 4.5 0 1 0 -9 0zM274.82 396.25a4.5 4.5 0 1 0 9 0a4.5 4.5 0 1 0 -9 0zM275.96 395.68a4.5 4.5 0 1 0 9 0a4.5 4.5 0 1 0 -9 0zM277.1 395.32a4.5 4.5 0 1 0 9 0a4.5 4.5 0 1 0 -9 0zM278.25 393.96a4.5 4.5 0 1 0 9 0a4.5 4.5 0 1 0 -9 0zM279.39 393.57a4.5 4.5 0 1 0 9 0a4.5 4.5 0 1 0 -9 0zM280.53 392.12a4.5 4.5 0 1 0 9 0a4.5 4.5 0 1 0 -9 0zM281.67 391.43a4.5 4.5 0 1 0 9 0a4.5 4.5 0 1 0 -9 0zM282.81 390.87a4.5 4.5 0 1 0 9 0a4.5 4.5 0 1 0 -9 0zM283.95 391.4a4.5 4.5 0 1 0 9 0a4.5 4.5 0 1 0 -9 0zM285.5 336.11a4.5 4.5 0 1 0 9 0a4.5 4.5 0 1 0 -9 0zM287.7 266.27a4.5 4.5 0 1 0 9 0a4.5 4.5 0 1 0 -9 0zM288.3 269.28a4.5 4.5 0 1 0 9 0a4.5 4.5 0 1 0 -9 0zM290.5 336.11a4.5 4.5 0 1 0 9 0a4.5 4.5 0 1 0 -9 0zM291.94 393.6a4.5 4.5 0 1 0 9 0a4.5 4.5 0 1 0 -9 0zM293.08 395.01a4.5 4.5 0 1 0 9 0a4.5 4.5 0 1 0 -9 0zM294.22 395.17a4.5 4.5 0 1 0 9 0a4.5 4.5 0 1 0 -9 0zM295.37 395.63a4.5 4.5 0 1 0 9 0a4.5 4.5 0 1 0 -9 0zM296.51 395.71a4.5 4.5 0 1 0 9 0a4.5 4.5 0 1 0 -9 0zM297.65 396.08a4.5 4.5 0 1 0 9 0a4.5 4.5 0 1 0 -9 0zM298.79 396.91a4.5 4.5 0 1 0 9 0a4.5 4.5 0 1 0 -9 0zM299.93 396.68a4.5 4.5 0 1 0 9 0a4.5 4.5 0 1 0 -9 0zM301.07 396.46a4.5 4.5 0 1 0 9 0a4.5 4.5 0 1 0 -9 0zM302.21 397.12a4.5 4.5 0 1 0 9 0a4.5 4.5 0 1 0 -9 0zM303.36 396.81a4.5 4.5 0 1 0 9 0a4.5 4.5 0 1 0 -9 0zM304.5 395.84a4.5 4.5 0 1 0 9 0a4.5 4.5 0 1 0 -9 0zM305.64 395.75a4.5 4.5 0 1 0 9 0a4.5 4.5 0 1 0 -9 0zM306.78 394.03a4.5 4.5 0 1 0 9 0a4.5 4.5 0 1 0 -9 0zM308.5 369.82a4.5 4.5 0 1 0 9 0a4.5 4.5 0 1 0 -9 0zM312.5 209.69a4.5 4.5 0 1 0 9 0a4.5 4.5 0 1 0 -9 0zM312.5 239.79a4.5 4.5 0 1 0 9 0a4.5 4.5 0 1 0 -9 0zM312.5 266.88a4.5 4.5 0 1 0 9 0a4.5 4.5 0 1 0 -9 0zM316.5 340.92a4.5 4.5 0 1 0 9 0a4.5 4.5 0 1 0 -9 0zM318.19 390.44a4.5 4.5 0 1 0 9 0a4.5 4.5 0 1 0 -9 0zM319.34 391.11a4.5 4.5 0 1 0 9 0a4.5 4.5 0 1 0 -9 0zM320.48 391.23a4.5 4.5 0 1 0 9 0a4.5 4.5 0 1 0 -9 0zM321.62 391.63a4.5 4.5 0 1 0 9 0a4.5 4.5 0 1 0 -9 0zM322.76 392.03a4.5 4.5 0 1 0 9 0a4.5 4.5 0 1 0 -9 0zM323.9 391.84a4.5 4.5 0 1 0 9 0a4.5 4.5 0 1 0 -9 0zM325.04 392.16a4.5 4.5 0 1 0 9 0a4.5 4.5 0 1 0 -9 0zM326.18 392.59a4.5 4.5 0 1 0 9 0a4.5 4.5 0 1 0 -9 0zM327.33 392.21a4.5 4.5 0 1 0 9 0a4.5 4.5 0 1 0 -9 0zM328.47 393a4.5 4.5 0 1 0 9 0a4.5 4.5 0 1 0 -9 0zM329.61 392a4.5 4.5 0 1 0 9 0a4.5 4.5 0 1 0 -9 0zM330.75 391.92a4.5 4.5 0 1 0 9 0a4.5 4.5 0 1 0 -9 0zM331.89 392.04a4.5 4.5 0 1 0 9 0a4.5 4.5 0 1 0 -9 0zM333.03 391.63a4.5 4.5 0 1 0 9 0a4.5 4.5 0 1 0 -9 0zM334.17 389.66a4.5 4.5 0 1 0 9 0a4.5 4.5 0 1 0 -9 0zM335.31 387.19a4.5 4.5 0 1 0 9 0a4.5 4.5 0 1 0 -9 0zM336.46 386.58a4.5 4.5 0 1 0 9 0a4.5 4.5 0 1 0 -9 0zM337.6 386.67a4.5 4.5 0 1 0 9 0a4.5 4.5 0 1 0 -9 0zM338.74 388.74a4.5 4.5 0 1 0 9 0a4.5 4.5 0 1 0 -9 0zM339.88 391.52a4.5 4.5 0 1 0 9 0a4.5 4.5 0 1 0 -9 0zM341.02 393a4.5 4.5 0 1 0 9 0a4.5 4.5 0 1 0 -9 0zM342.16 392.42a4.5 4.5 0 1 0 9 0a4.5 4.5 0 1 0 -9 0zM343.3 393.25a4.5 4.5 0 1 0 9 0a4.5 4.5 0 1 0 -9 0zM344.45 393.04a4.5 4.5 0 1 0 9 0a4.5 4.5 0 1 0 -9 0zM345.59 392.41a4.5 4.5 0 1 0 9 0a4.5 4.5 0 1 0 -9 0zM346.73 392.9a4.5 4.5 0 1 0 9 0a4.5 4.5 0 1 0 -9 0zM347.87 393.4a4.5 4.5 0 1 0 9 0a4.5 4.5 0 1 0 -9 0zM349.01 392.31a4.5 4.5 0 1 0 9 0a4.5 4.5 0 1 0 -9 0zM350.15 393.26a4.5 4.5 0 1 0 9 0a4.5 4.5 0 1 0 -9 0zM351.29 393.81a4.5 4.5 0 1 0 9 0a4.5 4.5 0 1 0 -9 0zM352.44 392.75a4.5 4.5 0 1 0 9 0a4.5 4.5 0 1 0 -9 0zM353.58 393.66a4.5 4.5 0 1 0 9 0a4.5 4.5 0 1 0 -9 0zM354.72 393.31a4.5 4.5 0 1 0 9 0a4.5 4.5 0 1 0 -9 0zM355.86 392.43a4.5 4.5 0 1 0 9 0a4.5 4.5 0 1 0 -9 0zM357 392.52a4.5 4.5 0 1 0 9 0a4.5 4.5 0 1 0 -9 0zM358.14 393.07a4.5 4.5 0 1 0 9 0a4.5 4.5 0 1 0 -9 0zM359.28 391.46a4.5 4.5 0 1 0 9 0a4.5 4.5 0 1 0 -9 0zM360.43 390.35a4.5 4.5 0 1 0 9 0a4.5 4.5 0 1 0 -9 0zM361.57 389.52a4.5 4.5 0 1 0 9 0a4.5 4.5 0 1 0 -9 0zM362.71 390.23a4.5 4.5 0 1 0 9 0a4.5 4.5 0 1 0 -9 0zM363.85 390.65a4.5 4.5 0 1 0 9 0a4.5 4.5 0 1 0 -9 0zM364.99 392.46a4.5 4.5 0 1 0 9 0a4.5 4.5 0 1 0 -9 0zM366.13 392.69a4.5 4.5 0 1 0 9 0a4.5 4.5 0 1 0 -9 0zM367.27 392.73a4.5 4.5 0 1 0 9 0a4.5 4.5 0 1 0 -9 0zM368.42 391.84a4.5 4.5 0 1 0 9 0a4.5 4.5 0 1 0 -9 0zM369.56 393.1a4.5 4.5 0 1 0 9 0a4.5 4.5 0 1 0 -9 0zM370.7 391.93a4.5 4.5 0 1 0 9 0a4.5 4.5 0 1 0 -9 0zM371.84 392.69a4.5 4.5 0 1 0 9 0a4.5 4.5 0 1 0 -9 0zM372.98 391.93a4.5 4.5 0 1 0 9 0a4.5 4.5 0 1 0 -9 0zM374.12 392.02a4.5 4.5 0 1 0 9 0a4.5 4.5 0 1 0 -9 0zM375.26 391.67a4.5 4.5 0 1 0 9 0a4.5 4.5 0 1 0 -9 0zM376.41 390.92a4.5 4.5 0 1 0 9 0a4.5 4.5 0 1 0 -9 0zM377.55 391.09a4.5 4.5 0 1 0 9 0a4.5 4.5 0 1 0 -9 0zM378.69 391.03a4.5 4.5 0 1 0 9 0a4.5 4.5 0 1 0 -9 0zM379.83 390.4a4.5 4.5 0 1 0 9 0a4.5 4.5 0 1 0 -9 0zM380.97 389.64a4.5 4.5 0 1 0 9 0a4.5 4.5 0 1 0 -9 0zM382.5 318.05a4.5 4.5 0 1 0 9 0a4.5 4.5 0 1 0 -9 0zM386.1 229.55a4.5 4.5 0 1 0 9 0a4.5 4.5 0 1 0 -9 0zM386.1 243.4a4.5 4.5 0 1 0 9 0a4.5 4.5 0 1 0 -9 0zM388.5 306.01a4.5 4.5 0 1 0 9 0a4.5 4.5 0 1 0 -9 0zM388.5 374.03a4.5 4.5 0 1 0 9 0a4.5 4.5 0 1 0 -9 0zM390.1 386.33a4.5 4.5 0 1 0 9 0a4.5 4.5 0 1 0 -9 0zM391.24 387.78a4.5 4.5 0 1 0 9 0a4.5 4.5 0 1 0 -9 0zM392.38 388.17a4.5 4.5 0 1 0 9 0a4.5 4.5 0 1 0 -9 0zM393.53 389.25a4.5 4.5 0 1 0 9 0a4.5 4.5 0 1 0 -9 0zM394.67 390.77a4.5 4.5 0 1 0 9 0a4.5 4.5 0 1 0 -9 0zM395.81 390.09a4.5 4.5 0 1 0 9 0a4.5 4.5 0 1 0 -9 0zM396.95 390.1a4.5 4.5 0 1 0 9 0a4.5 4.5 0 1 0 -9 0zM398.09 390.26a4.5 4.5 0 1 0 9 0a4.5 4.5 0 1 0 -9 0zM399.23 390.59a4.5 4.5 0 1 0 9 0a4.5 4.5 0 1 0 -9 0zM400.37 390.68a4.5 4.5 0 1 0 9 0a4.5 4.5 0 1 0 -9 0zM401.52 390.29a4.5 4.5 0 1 0 9 0a4.5 4.5 0 1 0 -9 0zM402.66 389.37a4.5 4.5 0 1 0 9 0a4.5 4.5 0 1 0 -9 0zM403.8 389.65a4.5 4.5 0 1 0 9 0a4.5 4.5 0 1 0 -9 0zM404.94 388.49a4.5 4.5 0 1 0 9 0a4.5 4.5 0 1 0 -9 0zM406.5 369.82a4.5 4.5 0 1 0 9 0a4.5 4.5 0 1 0 -9 0zM410.5 222.93a4.5 4.5 0 1 0 9 0a4.5 4.5 0 1 0 -9 0zM410.5 265.07a4.5 4.5 0 1 0 9 0a4.5 4.5 0 1 0 -9 0zM410.7 196.44a4.5 4.5 0 1 0 9 0a4.5 4.5 0 1 0 -9 0zM414.5 328.88a4.5 4.5 0 1 0 9 0a4.5 4.5 0 1 0 -9 0zM415.21 387.75a4.5 4.5 0 1 0 9 0a4.5 4.5 0 1 0 -9 0zM416.35 388.12a4.5 4.5 0 1 0 9 0a4.5 4.5 0 1 0 -9 0zM417.5 389.24a4.5 4.5 0 1 0 9 0a4.5 4.5 0 1 0 -9 0zM418.64 389.71a4.5 4.5 0 1 0 9 0a4.5 4.5 0 1 0 -9 0zM419.78 390.39a4.5 4.5 0 1 0 9 0a4.5 4.5 0 1 0 -9 0zM420.92 391.63a4.5 4.5 0 1 0 9 0a4.5 4.5 0 1 0 -9 0zM422.06 392.05a4.5 4.5 0 1 0 9 0a4.5 4.5 0 1 0 -9 0zM423.2 391.9a4.5 4.5 0 1 0 9 0a4.5 4.5 0 1 0 -9 0zM424.34 392.46a4.5 4.5 0 1 0 9 0a4.5 4.5 0 1 0 -9 0zM425.49 392.36a4.5 4.5 0 1 0 9 0a4.5 4.5 0 1 0 -9 0zM426.63 392.1a4.5 4.5 0 1 0 9 0a4.5 4.5 0 1 0 -9 0zM427.77 391.83a4.5 4.5 0 1 0 9 0a4.5 4.5 0 1 0 -9 0zM428.91 392.41a4.5 4.5 0 1 0 9 0a4.5 4.5 0 1 0 -9 0zM430.05 391.91a4.5 4.5 0 1 0 9 0a4.5 4.5 0 1 0 -9 0zM431.19 392.3a4.5 4.5 0 1 0 9 0a4.5 4.5 0 1 0 -9 0zM432.33 389.82a4.5 4.5 0 1 0 9 0a4.5 4.5 0 1 0 -9 0zM433.48 385.16a4.5 4.5 0 1 0 9 0a4.5 4.5 0 1 0 -9 0zM434.62 382.67a4.5 4.5 0 1 0 9 0a4.5 4.5 0 1 0 -9 0zM435.76 380.94a4.5 4.5 0 1 0 9 0a4.5 4.5 0 1 0 -9 0zM436.9 383.79a4.5 4.5 0 1 0 9 0a4.5 4.5 0 1 0 -9 0zM438.04 387.86a4.5 4.5 0 1 0 9 0a4.5 4.5 0 1 0 -9 0zM439.18 389.94a4.5 4.5 0 1 0 9 0a4.5 4.5 0 1 0 -9 0zM440.32 391.52a4.5 4.5 0 1 0 9 0a4.5 4.5 0 1 0 -9 0zM441.47 392.65a4.5 4.5 0 1 0 9 0a4.5 4.5 0 1 0 -9 0zM442.61 393.62a4.5 4.5 0 1 0 9 0a4.5 4.5 0 1 0 -9 0zM443.75 393.39a4.5 4.5 0 1 0 9 0a4.5 4.5 0 1 0 -9 0zM444.89 393.51a4.5 4.5 0 1 0 9 0a4.5 4.5 0 1 0 -9 0zM446.03 392.83a4.5 4.5 0 1 0 9 0a4.5 4.5 0 1 0 -9 0zM447.17 392.82a4.5 4.5 0 1 0 9 0a4.5 4.5 0 1 0 -9 0zM448.31 393.2a4.5 4.5 0 1 0 9 0a4.5 4.5 0 1 0 -9 0zM449.45 393.07a4.5 4.5 0 1 0 9 0a4.5 4.5 0 1 0 -9 0zM450.6 393.71a4.5 4.5 0 1 0 9 0a4.5 4.5 0 1 0 -9 0zM451.74 393.03a4.5 4.5 0 1 0 9 0a4.5 4.5 0 1 0 -9 0zM452.88 392.37a4.5 4.5 0 1 0 9 0a4.5 4.5 0 1 0 -9 0zM454.02 392.6a4.5 4.5 0 1 0 9 0a4.5 4.5 0 1 0 -9 0zM455.16 393.3a4.5 4.5 0 1 0 9 0a4.5 4.5 0 1 0 -9 0zM456.3 391.67a4.5 4.5 0 1 0 9 0a4.5 4.5 0 1 0 -9 0zM457.44 389.38a4.5 4.5 0 1 0 9 0a4.5 4.5 0 1 0 -9 0zM458.59 387.54a4.5 4.5 0 1 0 9 0a4.5 4.5 0 1 0 -9 0zM459.73 384.91a4.5 4.5 0 1 0 9 0a4.5 4.5 0 1 0 -9 0zM460.87 386.17a4.5 4.5 0 1 0 9 0a4.5 4.5 0 1 0 -9 0zM462.01 388.06a4.5 4.5 0 1 0 9 0a4.5 4.5 0 1 0 -9 0zM463.15 390.85a4.5 4.5 0 1 0 9 0a4.5 4.5 0 1 0 -9 0zM464.29 391.3a4.5 4.5 0 1 0 9 0a4.5 4.5 0 1 0 -9 0zM465.43 392.13a4.5 4.5 0 1 0 9 0a4.5 4.5 0 1 0 -9 0zM466.58 392.54a4.5 4.5 0 1 0 9 0a4.5 4.5 0 1 0 -9 0zM467.72 393.15a4.5 4.5 0 1 0 9 0a4.5 4.5 0 1 0 -9 0zM468.86 392.58a4.5 4.5 0 1 0 9 0a4.5 4.5 0 1 0 -9 0zM470 393.09a4.5 4.5 0 1 0 9 0a4.5 4.5 0 1 0 -9 0zM471.14 392.04a4.5 4.5 0 1 0 9 0a4.5 4.5 0 1 0 -9 0zM472.28 391.39a4.5 4.5 0 1 0 9 0a4.5 4.5 0 1 0 -9 0zM473.42 392.24a4.5 4.5 0 1 0 9 0a4.5 4.5 0 1 0 -9 0zM474.57 391.4a4.5 4.5 0 1 0 9 0a4.5 4.5 0 1 0 -9 0zM475.71 391.03a4.5 4.5 0 1 0 9 0a4.5 4.5 0 1 0 -9 0zM476.85 390.62a4.5 4.5 0 1 0 9 0a4.5 4.5 0 1 0 -9 0zM477.99 389.44a4.5 4.5 0 1 0 9 0a4.5 4.5 0 1 0 -9 0zM479.13 388.19a4.5 4.5 0 1 0 9 0a4.5 4.5 0 1 0 -9 0zM480.5 303a4.5 4.5 0 1 0 9 0a4.5 4.5 0 1 0 -9 0zM484.5 209.69a4.5 4.5 0 1 0 9 0a4.5 4.5 0 1 0 -9 0zM484.7 187.41a4.5 4.5 0 1 0 9 0a4.5 4.5 0 1 0 -9 0zM487.5 280.72a4.5 4.5 0 1 0 9 0a4.5 4.5 0 1 0 -9 0zM487.5 368.01a4.5 4.5 0 1 0 9 0a4.5 4.5 0 1 0 -9 0zM488.26 386.22a4.5 4.5 0 1 0 9 0a4.5 4.5 0 1 0 -9 0zM489.4 387.88a4.5 4.5 0 1 0 9 0a4.5 4.5 0 1 0 -9 0zM490.55 388.14a4.5 4.5 0 1 0 9 0a4.5 4.5 0 1 0 -9 0zM491.69 389.91a4.5 4.5 0 1 0 9 0a4.5 4.5 0 1 0 -9 0zM492.83 389.83a4.5 4.5 0 1 0 9 0a4.5 4.5 0 1 0 -9 0zM493.97 390.36a4.5 4.5 0 1 0 9 0a4.5 4.5 0 1 0 -9 0zM495.11 390.46a4.5 4.5 0 1 0 9 0a4.5 4.5 0 1 0 -9 0zM496.25 390.47a4.5 4.5 0 1 0 9 0a4.5 4.5 0 1 0 -9 0zM497.39 391.5a4.5 4.5 0 1 0 9 0a4.5 4.5 0 1 0 -9 0zM498.54 390.83a4.5 4.5 0 1 0 9 0a4.5 4.5 0 1 0 -9 0zM499.68 391.01a4.5 4.5 0 1 0 9 0a4.5 4.5 0 1 0 -9 0zM500.82 390.32a4.5 4.5 0 1 0 9 0a4.5 4.5 0 1 0 -9 0zM501.96 389.41a4.5 4.5 0 1 0 9 0a4.5 4.5 0 1 0 -9 0zM503.1 389.33a4.5 4.5 0 1 0 9 0a4.5 4.5 0 1 0 -9 0zM504.24 389.48a4.5 4.5 0 1 0 9 0a4.5 4.5 0 1 0 -9 0zM505.5 375.84a4.5 4.5 0 1 0 9 0a4.5 4.5 0 1 0 -9 0zM508.5 245.2a4.5 4.5 0 1 0 9 0a4.5 4.5 0 1 0 -9 0zM508.5 253.03a4.5 4.5 0 1 0 9 0a4.5 4.5 0 1 0 -9 0zM508.5 289.15a4.5 4.5 0 1 0 9 0a4.5 4.5 0 1 0 -9 0zM512.5 342.13a4.5 4.5 0 1 0 9 0a4.5 4.5 0 1 0 -9 0zM513.37 388.81a4.5 4.5 0 1 0 9 0a4.5 4.5 0 1 0 -9 0zM514.51 389.43a4.5 4.5 0 1 0 9 0a4.5 4.5 0 1 0 -9 0zM515.66 389.96a4.5 4.5 0 1 0 9 0a4.5 4.5 0 1 0 -9 0zM516.8 390.95a4.5 4.5 0 1 0 9 0a4.5 4.5 0 1 0 -9 0zM517.94 391.16a4.5 4.5 0 1 0 9 0a4.5 4.5 0 1 0 -9 0zM519.08 392.78a4.5 4.5 0 1 0 9 0a4.5 4.5 0 1 0 -9 0zM520.22 391.63a4.5 4.5 0 1 0 9 0a4.5 4.5 0 1 0 -9 0zM521.36 392.19a4.5 4.5 0 1 0 9 0a4.5 4.5 0 1 0 -9 0zM522.5 392.57a4.5 4.5 0 1 0 9 0a4.5 4.5 0 1 0 -9 0zM523.65 392.26a4.5 4.5 0 1 0 9 0a4.5 4.5 0 1 0 -9 0zM524.79 392.42a4.5 4.5 0 1 0 9 0a4.5 4.5 0 1 0 -9 0zM525.93 393.75a4.5 4.5 0 1 0 9 0a4.5 4.5 0 1 0 -9 0zM527.07 392.7a4.5 4.5 0 1 0 9 0a4.5 4.5 0 1 0 -9 0zM528.21 392.69a4.5 4.5 0 1 0 9 0a4.5 4.5 0 1 0 -9 0zM529.35 392.96a4.5 4.5 0 1 0 9 0a4.5 4.5 0 1 0 -9 0zM530.49 390.23a4.5 4.5 0 1 0 9 0a4.5 4.5 0 1 0 -9 0zM531.64 386.84a4.5 4.5 0 1 0 9 0a4.5 4.5 0 1 0 -9 0zM532.78 383.14a4.5 4.5 0 1 0 9 0a4.5 4.5 0 1 0 -9 0zM533.92 379.99a4.5 4.5 0 1 0 9 0a4.5 4.5 0 1 0 -9 0zM535.06 382.77a4.5 4.5 0 1 0 9 0a4.5 4.5 0 1 0 -9 0zM536.2 386.3a4.5 4.5 0 1 0 9 0a4.5 4.5 0 1 0 -9 0zM537.34 390.53a4.5 4.5 0 1 0 9 0a4.5 4.5 0 1 0 -9 0zM538.48 393.05a4.5 4.5 0 1 0 9 0a4.5 4.5 0 1 0 -9 0zM539.63 393.42a4.5 4.5 0 1 0 9 0a4.5 4.5 0 1 0 -9 0zM540.77 393.82a4.5 4.5 0 1 0 9 0a4.5 4.5 0 1 0 -9 0zM541.91 394.3a4.5 4.5 0 1 0 9 0a4.5 4.5 0 1 0 -9 0zM543.05 393.15a4.5 4.5 0 1 0 9 0a4.5 4.5 0 1 0 -9 0zM544.19 394.58a4.5 4.5 0 1 0 9 0a4.5 4.5 0 1 0 -9 0zM545.33 394.71a4.5 4.5 0 1 0 9 0a4.5 4.5 0 1 0 -9 0zM546.47 393.98a4.5 4.5 0 1 0 9 0a4.5 4.5 0 1 0 -9 0zM547.62 393.46a4.5 4.5 0 1 0 9 0a4.5 4.5 0 1 0 -9 0zM548.76 393.76a4.5 4.5 0 1 0 9 0a4.5 4.5 0 1 0 -9 0zM549.9 393.63a4.5 4.5 0 1 0 9 0a4.5 4.5 0 1 0 -9 0zM551.04 394.05a4.5 4.5 0 1 0 9 0a4.5 4.5 0 1 0 -9 0zM552.18 393.69a4.5 4.5 0 1 0 9 0a4.5 4.5 0 1 0 -9 0zM553.32 393.92a4.5 4.5 0 1 0 9 0a4.5 4.5 0 1 0 -9 0zM554.46 393.11a4.5 4.5 0 1 0 9 0a4.5 4.5 0 1 0 -9 0zM555.61 390.96a4.5 4.5 0 1 0 9 0a4.5 4.5 0 1 0 -9 0zM556.75 389.56a4.5 4.5 0 1 0 9 0a4.5 4.5 0 1 0 -9 0zM557.89 388.32a4.5 4.5 0 1 0 9 0a4.5 4.5 0 1 0 -9 0zM559.03 388.02a4.5 4.5 0 1 0 9 0a4.5 4.5 0 1 0 -9 0zM560.17 390.97a4.5 4.5 0 1 0 9 0a4.5 4.5 0 1 0 -9 0zM561.31 391.99a4.5 4.5 0 1 0 9 0a4.5 4.5 0 1 0 -9 0zM562.45 393.01a4.5 4.5 0 1 0 9 0a4.5 4.5 0 1 0 -9 0zM563.59 393.99a4.5 4.5 0 1 0 9 0a4.5 4.5 0 1 0 -9 0zM564.74 393.62a4.5 4.5 0 1 0 9 0a4.5 4.5 0 1 0 -9 0zM565.88 393.4a4.5 4.5 0 1 0 9 0a4.5 4.5 0 1 0 -9 0zM567.02 393.19a4.5 4.5 0 1 0 9 0a4.5 4.5 0 1 0 -9 0zM568.16 394.23a4.5 4.5 0 1 0 9 0a4.5 4.5 0 1 0 -9 0zM569.3 394.04a4.5 4.5 0 1 0 9 0a4.5 4.5 0 1 0 -9 0zM570.44 393.52a4.5 4.5 0 1 0 9 0a4.5 4.5 0 1 0 -9 0zM571.58 393.17a4.5 4.5 0 1 0 9 0a4.5 4.5 0 1 0 -9 0zM572.73 393.14a4.5 4.5 0 1 0 9 0a4.5 4.5 0 1 0 -9 0zM573.87 393.19a4.5 4.5 0 1 0 9 0a4.5 4.5 0 1 0 -9 0zM575.01 391.83a4.5 4.5 0 1 0 9 0a4.5 4.5 0 1 0 -9 0zM576.15 390.52a4.5 4.5 0 1 0 9 0a4.5 4.5 0 1 0 -9 0zM577.29 390.58a4.5 4.5 0 1 0 9 0a4.5 4.5 0 1 0 -9 0zM578.43 389.18a4.5 4.5 0 1 0 9 0a4.5 4.5 0 1 0 -9 0zM579.5 298.78a4.5 4.5 0 1 0 9 0a4.5 4.5 0 1 0 -9 0zM582.7 177.18a4.5 4.5 0 1 0 9 0a4.5 4.5 0 1 0 -9 0zM582.7 192.23a4.5 4.5 0 1 0 9 0a4.5 4.5 0 1 0 -9 0zM585.5 277.11a4.5 4.5 0 1 0 9 0a4.5 4.5 0 1 0 -9 0zM585.5 369.82a4.5 4.5 0 1 0 9 0a4.5 4.5 0 1 0 -9 0zM586.42 387.85a4.5 4.5 0 1 0 9 0a4.5 4.5 0 1 0 -9 0zM587.56 389.1a4.5 4.5 0 1 0 9 0a4.5 4.5 0 1 0 -9 0zM588.71 389.52a4.5 4.5 0 1 0 9 0a4.5 4.5 0 1 0 -9 0zM589.85 391.21a4.5 4.5 0 1 0 9 0a4.5 4.5 0 1 0 -9 0zM590.99 391.28a4.5 4.5 0 1 0 9 0a4.5 4.5 0 1 0 -9 0zM592.13 391.95a4.5 4.5 0 1 0 9 0a4.5 4.5 0 1 0 -9 0zM593.27 392.13a4.5 4.5 0 1 0 9 0a4.5 4.5 0 1 0 -9 0zM594.41 391.69a4.5 4.5 0 1 0 9 0a4.5 4.5 0 1 0 -9 0zM595.55 393.04a4.5 4.5 0 1 0 9 0a4.5 4.5 0 1 0 -9 0zM596.7 391.8a4.5 4.5 0 1 0 9 0a4.5 4.5 0 1 0 -9 0zM597.84 392.43a4.5 4.5 0 1 0 9 0a4.5 4.5 0 1 0 -9 0zM598.98 391.58a4.5 4.5 0 1 0 9 0a4.5 4.5 0 1 0 -9 0zM600.12 390.86a4.5 4.5 0 1 0 9 0a4.5 4.5 0 1 0 -9 0zM601.26 390.4a4.5 4.5 0 1 0 9 0a4.5 4.5 0 1 0 -9 0zM602.4 389.89a4.5 4.5 0 1 0 9 0a4.5 4.5 0 1 0 -9 0zM603.54 388.03a4.5 4.5 0 1 0 9 0a4.5 4.5 0 1 0 -9 0zM604.5 371.02a4.5 4.5 0 1 0 9 0a4.5 4.5 0 1 0 -9 0zM606.5 224.74a4.5 4.5 0 1 0 9 0a4.5 4.5 0 1 0 -9 0zM606.5 244.6a4.5 4.5 0 1 0 9 0a4.5 4.5 0 1 0 -9 0zM606.5 277.11a4.5 4.5 0 1 0 9 0a4.5 4.5 0 1 0 -9 0zM611.5 343.33a4.5 4.5 0 1 0 9 0a4.5 4.5 0 1 0 -9 0zM612.68 391.73a4.5 4.5 0 1 0 9 0a4.5 4.5 0 1 0 -9 0zM613.82 391.71a4.5 4.5 0 1 0 9 0a4.5 4.5 0 1 0 -9 0zM614.96 392.72a4.5 4.5 0 1 0 9 0a4.5 4.5 0 1 0 -9 0zM616.1 392.99a4.5 4.5 0 1 0 9 0a4.5 4.5 0 1 0 -9 0zM617.24 392.87a4.5 4.5 0 1 0 9 0a4.5 4.5 0 1 0 -9 0zM618.38 393.25a4.5 4.5 0 1 0 9 0a4.5 4.5 0 1 0 -9 0zM619.52 393.76a4.5 4.5 0 1 0 9 0a4.5 4.5 0 1 0 -9 0zM620.66 394.45a4.5 4.5 0 1 0 9 0a4.5 4.5 0 1 0 -9 0zM621.81 394.73a4.5 4.5 0 1 0 9 0a4.5 4.5 0 1 0 -9 0zM622.95 394.51a4.5 4.5 0 1 0 9 0a4.5 4.5 0 1 0 -9 0zM624.09 394.97a4.5 4.5 0 1 0 9 0a4.5 4.5 0 1 0 -9 0zM625.23 394.97a4.5 4.5 0 1 0 9 0a4.5 4.5 0 1 0 -9 0zM626.37 393.81a4.5 4.5 0 1 0 9 0a4.5 4.5 0 1 0 -9 0zM627.51 394.45a4.5 4.5 0 1 0 9 0a4.5 4.5 0 1 0 -9 0zM628.65 391.25a4.5 4.5 0 1 0 9 0a4.5 4.5 0 1 0 -9 0zM629.8 387.82a4.5 4.5 0 1 0 9 0a4.5 4.5 0 1 0 -9 0zM630.94 382.87a4.5 4.5 0 1 0 9 0a4.5 4.5 0 1 0 -9 0zM632.08 380.29a4.5 4.5 0 1 0 9 0a4.5 4.5 0 1 0 -9 0zM633.22 382.51a4.5 4.5 0 1 0 9 0a4.5 4.5 0 1 0 -9 0zM634.36 386.94a4.5 4.5 0 1 0 9 0a4.5 4.5 0 1 0 -9 0zM635.5 392.47a4.5 4.5 0 1 0 9 0a4.5 4.5 0 1 0 -9 0zM636.64 395.26a4.5 4.5 0 1 0 9 0a4.5 4.5 0 1 0 -9 0zM637.79 397.08a4.5 4.5 0 1 0 9 0a4.5 4.5 0 1 0 -9 0zM638.93 396.96a4.5 4.5 0 1 0 9 0a4.5 4.5 0 1 0 -9 0zM640.07 397.5a4.5 4.5 0 1 0 9 0a4.5 4.5 0 1 0 -9 0zM641.21 398.79a4.5 4.5 0 1 0 9 0a4.5 4.5 0 1 0 -9 0zM642.35 399.01a4.5 4.5 0 1 0 9 0a4.5 4.5 0 1 0 -9 0zM643.49 399.09a4.5 4.5 0 1 0 9 0a4.5 4.5 0 1 0 -9 0zM644.63 400.56a4.5 4.5 0 1 0 9 0a4.5 4.5 0 1 0 -9 0zM645.78 401.44a4.5 4.5 0 1 0 9 0a4.5 4.5 0 1 0 -9 0zM646.92 401.75a4.5 4.5 0 1 0 9 0a4.5 4.5 0 1 0 -9 0zM648.06 402.35a4.5 4.5 0 1 0 9 0a4.5 4.5 0 1 0 -9 0zM649.2 402.11a4.5 4.5 0 1 0 9 0a4.5 4.5 0 1 0 -9 0z" fill="#00ff00"/>
<path d="M83 395.22L84.14 394.73L85.28 395L86.42 394.63L87.57 394.58L88.71 395.45L89.85 395.5L90.99 394.06L92.13 394.37L93.27 392.9L94.41 389.47L95.56 388.79L96.7 388.84L97.84 391.53L98.98 393.16L100.12 394.83L101.26 394.32L102.4 393.97L103.55 394.48L104.69 394.09L105.83 394.13L106.97 395.01L108.11 393.84L109.25 393.99L110.39 394.3L111.54 394.54L112.68 393L113.82 393.23L114.96 392.33L116.1 391.45L117.24 390.97L119.67 377.64L120.25 359.58L120.7 350.55L121.28 370.42L122.95 389.35L124.09 390.73L125.23 390.63L126.37 391.7L127.51 391.32L128.66 391.71L129.8 393.15L130.94 393.26L132.08 393.27L133.22 392.19L134.36 393.1L135.5 392.86L136.65 393.42L137.79 393.13L138.93 393.35L140.07 393.42L141.21 393.07L142.35 393.09L143.49 392.59L144.64 392.95L145.78 392.56L146.92 392.68L148.06 392.46L149.2 392.96L150.34 393.75L151.48 392.65L152.63 392.48L153.77 392.56L154.91 393.08L156.05 392.84L157.19 393.61L158.33 392.63L159.47 393.02L160.62 393.45L161.76 393.78L162.9 392.53L164.04 392.29L165.18 393.68L166.32 392.55L167.46 393.13L168.61 393.51L169.75 393.25L170.89 392.48L172.03 392.28L173.17 393.53L174.31 392.59L175.45 393.43L176.59 392.32L177.74 392.85L178.88 391.91L180.02 391.66L181.16 392.29L182.3 391.37L183.44 392.28L184.58 392.42L185.73 391.32L186.87 391.85L188.01 391.12L189.15 390.2L190.29 389.16L191.43 389.11L193.31 362.59L193.8 338.51L193.98 346.94L195.32 375.24L197.14 389.92L198.28 389.32L199.42 390.75L200.56 390.17L201.71 390.58L202.85 391.61L203.99 391.61L205.13 391.59L206.27 391.41L207.41 391.43L208.55 391.38L209.7 391.09L210.84 390.31L211.98 390.59L213.12 390.15L214.26 388.97L215.4 388.8L216.78 363.8L218.29 299.99L218.7 283.73L219.15 318.05L220.7 372.83L222.25 388.6L223.39 388.59L224.53 390.18L225.68 390.83L226.82 392.2L227.96 391.98L229.1 392.05L230.24 393.19L231.38 392.46L232.52 392.6L233.66 393.64L234.81 392.87L235.95 393.23L237.09 392.98L238.23 393.57L239.37 393.08L240.51 393.09L241.65 394.26L242.8 394.25L243.94 393.33L245.08 392.91L246.22 394.06L247.36 393.77L248.5 393.58L249.64 394.04L250.79 393.99L251.93 394.09L253.07 394.03L254.21 393.69L255.35 394.17L256.49 394.06L257.63 393.46L258.78 394.64L259.92 393.8L261.06 393.55L262.2 394.24L263.34 394.48L264.48 393.67L265.62 394.65L266.77 394.83L267.91 394.53L269.05 394.58L270.19 396L271.33 396.14L272.47 396.52L273.61 396.26L274.76 396.9L275.9 396.01L277.04 396.83L278.18 396.29L279.32 395.51L280.46 394.8L281.6 395.06L282.75 394.94L283.89 394.57L285.03 393.3L286.17 393.17L287.31 391.87L288.45 391.32L289.59 391.72L291.77 357.18L292.4 304.2L292.49 315.04L293.12 360.19L295.3 393.46L296.44 393.94L297.58 395.15L298.72 395.49L299.87 396.64L301.01 397.28L302.15 397.22L303.29 396.55L304.43 397.4L305.57 397.24L306.71 397.02L307.86 396.81L309 396.52L310.14 395.29L311.28 395.89L312.42 395.13L314.6 380.05L317 278.92L317 296.98L317 315.04L319.4 360.19L321.55 389.81L322.69 390.37L323.84 390.47L324.98 391.45L326.12 391.02L327.26 391.35L328.4 392.68L329.54 392.04L330.68 392.05L331.83 392.43L332.97 392.75L334.11 393.19L335.25 393.17L336.39 393.4L337.53 393.69L338.67 392.91L339.81 393.41L340.96 392.62L342.1 393.84L343.24 392.51L344.38 392.85L345.52 392.5L346.66 392.55L347.8 392.55L348.95 393.06L350.09 393.94L351.23 392.79L352.37 393.69L353.51 393.48L354.65 392.91L355.79 393.12L356.94 393.28L358.08 392.45L359.22 392.95L360.36 393.35L361.5 393.48L362.64 392.5L363.78 393.08L364.93 392.58L366.07 393.23L367.21 393.44L368.35 392.87L369.49 392.39L370.63 393.35L371.77 392.33L372.92 392.06L374.06 392.17L375.2 392.05L376.34 393.22L377.48 392.12L378.62 391.6L379.76 392.68L380.91 392.09L382.05 391.78L383.19 390.98L384.33 390.64L385.47 389.9L386.61 388.58L389.43 354.77L390.6 287.95L390.6 290.35L391.23 336.71L392.52 381.86L394.6 388.95L395.74 389.77L396.88 390.38L398.03 390.92L399.17 391.38L400.31 390.22L401.45 390.56L402.59 391.83L403.73 391.17L404.87 391.36L406.02 391.17L407.16 390.82L408.3 389.92L409.44 389.42L411.8 380.05L414.55 314.43L415 269.89L415 286.14L416.6 352.96L418.57 388.04L419.71 389.39L420.85 390.07L422 391.09L423.14 390.95L424.28 391.11L425.42 391.96L426.56 392.68L427.7 392.73L428.84 392.58L429.99 392.35L431.13 392.18L432.27 392.9L433.41 392.31L434.55 392.59L435.69 392.63L436.83 391.67L437.98 389.17L439.12 386.08L440.26 385.52L441.4 386.85L442.54 390.1L443.68 392.46L444.82 392.84L445.97 392.82L447.11 393.84L448.25 393.3L449.39 393.31L450.53 392.6L451.67 392.52L452.81 393.4L453.95 392.59L455.1 392.75L456.24 393.58L457.38 393.26L458.52 393.77L459.66 392.58L460.8 392.38L461.94 390.93L463.09 389.41L464.23 388.45L465.37 388.76L466.51 390.58L467.65 392.69L468.79 392.6L469.93 393.67L471.08 393.44L472.22 392.38L473.36 393.44L474.5 393.26L475.64 393.12L476.78 391.73L477.92 392.63L479.07 392.61L480.21 391L481.35 391.7L482.49 390.01L483.63 389.55L484.77 388.37L485.91 387.07L488.1 346.94L489 260.86L489.23 263.26L489.45 321.06L492.2 377.04L493.9 388.89L495.05 389.37L496.19 391.2L497.33 390.51L498.47 391.23L499.61 391.13L500.75 392.2L501.89 391.24L503.04 390.91L504.18 392.15L505.32 391.52L506.46 390.8L507.6 389.9L508.74 390.16L509.88 389.42L511.4 381.86L512.55 331.29L513 298.78L513 304.8L515.4 361.39L516.73 389.21L517.87 389.62L519.01 390.22L520.16 391.42L521.3 391.96L522.44 392.3L523.58 392.67L524.72 392.8L525.86 393.51L527 393.01L528.15 392.39L529.29 393.38L530.43 392.94L531.57 393.93L532.71 393.11L533.85 392.78L534.99 391.88L536.14 389.59L537.28 386.15L538.42 383.98L539.56 385.1L540.7 389.8L541.84 392.73L542.98 393.02L544.13 393.15L545.27 393.88L546.41 394.03L547.55 393.63L548.69 394.5L549.83 394.4L550.97 394.53L552.12 393.95L553.26 394.4L554.4 394.55L555.54 393.85L556.68 393.44L557.82 394.42L558.96 393.56L560.11 393.44L561.25 391.93L562.39 391.86L563.53 392.66L564.67 393.54L565.81 394.51L566.95 394.09L568.09 394.31L569.24 394.62L570.38 394.27L571.52 394.27L572.66 393.48L573.8 394.36L574.94 392.89L576.08 393.52L577.23 393.09L578.37 392.99L579.51 392.01L580.65 391.5L581.79 391.2L582.93 390.41L584.07 388.9L585.44 346.94L587.2 251.83L587.2 256.04L588.01 319.25L589.44 378.25L590.92 388.56L592.06 390.37L593.21 390.72L594.35 391.04L595.49 392.29L596.63 393L597.77 393.22L598.91 392.58L600.05 392.69L601.2 392.19L602.34 392.21L603.48 392.92L604.62 392.62L605.76 391.97L606.9 391.36L608.04 389.63L609.4 380.05L610.1 320.45L611 287.34L611 297.58L613.4 360.79L614.89 389.57L616.03 390.52L617.18 392.36L618.32 392.06L619.46 393.43L620.6 393.65L621.74 393.47L622.88 394.72L624.02 394.9L625.16 393.89L626.31 394.87L627.45 394.88L628.59 394.62L629.73 394.54L630.87 395.6L632.01 394.84L633.15 393.54L634.3 390.63L635.44 387.08L636.58 384.18L637.72 385.22L638.86 390.2L640 393.55L641.14 396.09L642.29 396.62L643.43 396.41L644.57 397.6L645.71 396.71L646.85 396.99L647.99 398.57L649.13 397.56L650.28 398.75L651.42 398.44L652.56 398.77L653.7 399.8" fill="none" stroke="#0000ff" stroke-width="2.1" stroke-linejoin="round"/>
<path d="M83 390.02l5.2 10h-10.4zM84.14 389.53l5.2 10h-10.4zM85.28 389.8l5.2 10h-10.4zM86.42 389.43l5.2 10h-10.4zM87.57 389.38l5.2 10h-10.4zM88.71 390.25l5.2 10h-10.4zM89.85 390.3l5.2 10h-10.4zM90.99 388.86l5.2 10h-10.4zM92.13 389.17l5.2 10h-10.4zM93.27 387.7l5.2 10h-10.4zM94.41 384.27l5.2 10h-10.4zM95.56 383.59l5.2 10h-10.4zM96.7 383.64l5.2 10h-10.4zM97.84 386.33l5.2 10h-10.4zM98.98 387.96l5.2 10h-10.4zM100.12 389.63l5.2 10h-10.4zM101.26 389.12l5.2 10h-10.4zM102.4 388.77l5.2 10h-10.4zM103.55 389.28l5.2 10h-10.4zM104.69 388.89l5.2 10h-10.4zM105.83 388.93l5.2 10h-10.4zM106.97 389.81l5.2 10h-10.4zM108.11 388.64l5.2 10h-10.4zM109.25 388.79l5.2 10h-10.4zM110.39 389.1l5.2 10h-10.4zM111.54 389.34l5.2 10h-10.4zM112.68 387.8l5.2 10h-10.4zM113.82 388.03l5.2 10h-10.4zM114.96 387.13l5.2 10h-10.4zM116.1 386.25l5.2 10h-10.4zM117.24 385.77l5.2 10h-10.4zM118.4 372.44l5.2 10h-10.4zM119.7 354.38l5.2 10h-10.4zM120.7 345.35l5.2 10h-10.4zM122 365.22l5.2 10h-10.4zM122.95 384.15l5.2 10h-10.4zM124.09 385.53l5.2 10h-10.4zM125.23 385.43l5.2 10h-10.4zM126.37 386.5l5.2 10h-10.4zM127.51 386.12l5.2 10h-10.4zM128.66 386.51l5.2 10h-10.4zM129.8 387.95l5.2 10h-10.4zM130.94 388.06l5.2 10h-10.4zM132.08 388.07l5.2 10h-10.4zM133.22 386.99l5.2 10h-10.4zM134.36 387.9l5.2 10h-10.4zM135.5 387.66l5.2 10h-10.4zM136.65 388.22l5.2 10h-10.4zM137.79 387.93l5.2 10h-10.4zM138.93 388.15l5.2 10h-10.4zM140.07 388.22l5.2 10h-10.4zM141.21 387.87l5.2 10h-10.4zM142.35 387.89l5.2 10h-10.4zM143.49 387.39l5.2 10h-10.4zM144.64 387.75l5.2 10h-10.4zM145.78 387.36l5.2 10h-10.4zM146.92 387.48l5.2 10h-10.4zM148.06 387.26l5.2 10h-10.4zM149.2 387.76l5.2 10h-10.4zM150.34 388.55l5.2 10h-10.4zM151.48 387.45l5.2 10h-10.4zM152.63 387.28l5.2 10h-10.4zM153.77 387.36l5.2 10h-10.4zM154.91 387.88l5.2 10h-10.4zM156.05 387.64l5.2 10h-10.4zM157.19 388.41l5.2 10h-10.4zM158.33 387.43l5.2 10h-10.4zM159.47 387.82l5.2 10h-10.4zM160.62 388.25l5.2 10h-10.4zM161.76 388.58l5.2 10h-10.4zM162.9 387.33l5.2 10h-10.4zM164.04 387.09l5.2 10h-10.4zM165.18 388.48l5.2 10h-10.4zM166.32 387.35l5.2 10h-10.4zM167.46 387.93l5.2 10h-10.4zM168.61 388.31l5.2 10h-10.4zM169.75 388.05l5.2 10h-10.4zM170.89 387.28l5.2 10h-10.4zM172.03 387.08l5.2 10h-10.4zM173.17 388.33l5.2 10h-10.4zM174.31 387.39l5.2 10h-10.4zM175.45 388.23l5.2 10h-10.4zM176.59 387.12l5.2 10h-10.4zM177.74 387.65l5.2 10h-10.4zM178.88 386.71l5.2 10h-10.4zM180.02 386.46l5.2 10h-10.4zM181.16 387.09l5.2 10h-10.4zM182.3 386.17l5.2 10h-10.4zM183.44 387.08l5.2 10h-10.4zM184.58 387.22l5.2 10h-10.4zM185.73 386.12l5.2 10h-10.4zM186.87 386.65l5.2 10h-10.4zM188.01 385.92l5.2 10h-10.4zM189.15 385l5.2 10h-10.4zM190.29 383.96l5.2 10h-10.4zM191.43 383.91l5.2 10h-10.4zM192.7 357.39l5.2 10h-10.4zM193.8 333.31l5.2 10h-10.4zM194.2 341.74l5.2 10h-10.4zM195.7 370.04l5.2 10h-10.4zM197.14 384.72l5.2 10h-10.4zM198.28 384.12l5.2 10h-10.4zM199.42 385.55l5.2 10h-10.4zM200.56 384.97l5.2 10h-10.4zM201.71 385.38l5.2 10h-10.4zM202.85 386.41l5.2 10h-10.4zM203.99 386.41l5.2 10h-10.4zM205.13 386.39l5.2 10h-10.4zM206.27 386.21l5.2 10h-10.4zM207.41 386.23l5.2 10h-10.4zM208.55 386.18l5.2 10h-10.4zM209.7 385.89l5.2 10h-10.4zM210.84 385.11l5.2 10h-10.4zM211.98 385.39l5.2 10h-10.4zM213.12 384.95l5.2 10h-10.4zM214.26 383.77l5.2 10h-10.4zM215.4 383.6l5.2 10h-10.4zM216.3 358.6l5.2 10h-10.4zM217.8 294.79l5.2 10h-10.4zM218.7 278.53l5.2 10h-10.4zM219.7 312.85l5.2 10h-10.4zM221.2 367.63l5.2 10h-10.4zM222.25 383.4l5.2 10h-10.4zM223.39 383.39l5.2 10h-10.4zM224.53 384.98l5.2 10h-10.4zM225.68 385.63l5.2 10h-10.4zM226.82 387l5.2 10h-10.4zM227.96 386.78l5.2 10h-10.4zM229.1 386.85l5.2 10h-10.4zM230.24 387.99l5.2 10h-10.4zM231.38 387.26l5.2 10h-10.4zM232.52 387.4l5.2 10h-10.4zM233.66 388.44l5.2 10h-10.4zM234.81 387.67l5.2 10h-10.4zM235.95 388.03l5.2 10h-10.4zM237.09 387.78l5.2 10h-10.4zM238.23 388.37l5.2 10h-10.4zM239.37 387.88l5.2 10h-10.4zM240.51 387.89l5.2 10h-10.4zM241.65 389.06l5.2 10h-10.4zM242.8 389.05l5.2 10h-10.4zM243.94 388.13l5.2 10h-10.4zM245.08 387.71l5.2 10h-10.4zM246.22 388.86l5.2 10h-10.4zM247.36 388.57l5.2 10h-10.4zM248.5 388.38l5.2 10h-10.4zM249.64 388.84l5.2 10h-10.4zM250.79 388.79l5.2 10h-10.4zM251.93 388.89l5.2 10h-10.4zM253.07 388.83l5.2 10h-10.4zM254.21 388.49l5.2 10h-10.4zM255.35 388.97l5.2 10h-10.4zM256.49 388.86l5.2 10h-10.4zM257.63 388.26l5.2 10h-10.4zM258.78 389.44l5.2 10h-10.4zM259.92 388.6l5.2 10h-10.4zM261.06 388.35l5.2 10h-10.4zM262.2 389.04l5.2 10h-10.4zM263.34 389.28l5.2 10h-10.4zM264.48 388.47l5.2 10h-10.4zM265.62 389.45l5.2 10h-10.4zM266.77 389.63l5.2 10h-10.4zM267.91 389.33l5.2 10h-10.4zM269.05 389.38l5.2 10h-10.4zM270.19 390.8l5.2 10h-10.4zM271.33 390.94l5.2 10h-10.4zM272.47 391.32l5.2 10h-10.4zM273.61 391.06l5.2 10h-10.4zM274.76 391.7l5.2 10h-10.4zM275.9 390.81l5.2 10h-10.4zM277.04 391.63l5.2 10h-10.4zM278.18 391.09l5.2 10h-10.4zM279.32 390.31l5.2 10h-10.4zM280.46 389.6l5.2 10h-10.4zM281.6 389.86l5.2 10h-10.4zM282.75 389.74l5.2 10h-10.4zM283.89 389.37l5.2 10h-10.4zM285.03 388.1l5.2 10h-10.4zM286.17 387.97l5.2 10h-10.4zM287.31 386.67l5.2 10h-10.4zM288.45 386.12l5.2 10h-10.4zM289.59 386.52l5.2 10h-10.4zM291 351.98l5.2 10h-10.4zM292.4 299l5.2 10h-10.4zM292.6 309.84l5.2 10h-10.4zM294 354.99l5.2 10h-10.4zM295.3 388.26l5.2 10h-10.4zM296.44 388.74l5.2 10h-10.4zM297.58 389.95l5.2 10h-10.4zM298.72 390.29l5.2 10h-10.4zM299.87 391.44l5.2 10h-10.4zM301.01 392.08l5.2 10h-10.4zM302.15 392.02l5.2 10h-10.4zM303.29 391.35l5.2 10h-10.4zM304.43 392.2l5.2 10h-10.4zM305.57 392.04l5.2 10h-10.4zM306.71 391.82l5.2 10h-10.4zM307.86 391.61l5.2 10h-10.4zM309 391.32l5.2 10h-10.4zM310.14 390.09l5.2 10h-10.4zM311.28 390.69l5.2 10h-10.4zM312.42 389.93l5.2 10h-10.4zM314 374.85l5.2 10h-10.4zM317 273.72l5.2 10h-10.4zM317 291.78l5.2 10h-10.4zM317 309.84l5.2 10h-10.4zM320 354.99l5.2 10h-10.4zM321.55 384.61l5.2 10h-10.4zM322.69 385.17l5.2 10h-10.4zM323.84 385.27l5.2 10h-10.4zM324.98 386.25l5.2 10h-10.4zM326.12 385.82l5.2 10h-10.4zM327.26 386.15l5.2 10h-10.4zM328.4 387.48l5.2 10h-10.4zM329.54 386.84l5.2 10h-10.4zM330.68 386.85l5.2 10h-10.4zM331.83 387.23l5.2 10h-10.4zM332.97 387.55l5.2 10h-10.4zM334.11 387.99l5.2 10h-10.4zM335.25 387.97l5.2 10h-10.4zM336.39 388.2l5.2 10h-10.4zM337.53 388.49l5.2 10h-10.4zM338.67 387.71l5.2 10h-10.4zM339.81 388.21l5.2 10h-10.4zM340.96 387.42l5.2 10h-10.4zM342.1 388.64l5.2 10h-10.4zM343.24 387.31l5.2 10h-10.4zM344.38 387.65l5.2 10h-10.4zM345.52 387.3l5.2 10h-10.4zM346.66 387.35l5.2 10h-10.4zM347.8 387.35l5.2 10h-10.4zM348.95 387.86l5.2 10h-10.4zM350.09 388.74l5.2 10h-10.4zM351.23 387.59l5.2 10h-10.4zM352.37 388.49l5.2 10h-10.4zM353.51 388.28l5.2 10h-10.4zM354.65 387.71l5.2 10h-10.4zM355.79 387.92l5.2 10h-10.4zM356.94 388.08l5.2 10h-10.4zM358.08 387.25l5.2 10h-10.4zM359.22 387.75l5.2 10h-10.4zM360.36 388.15l5.2 10h-10.4zM361.5 388.28l5.2 10h-10.4zM362.64 387.3l5.2 10h-10.4zM363.78 387.88l5.2 10h-10.4zM364.93 387.38l5.2 10h-10.4zM366.07 388.03l5.2 10h-10.4zM367.21 388.24l5.2 10h-10.4zM368.35 387.67l5.2 10h-10.4zM369.49 387.19l5.2 10h-10.4zM370.63 388.15l5.2 10h-10.4zM371.77 387.13l5.2 10h-10.4zM372.92 386.86l5.2 10h-10.4zM374.06 386.97l5.2 10h-10.4zM375.2 386.85l5.2 10h-10.4zM376.34 388.02l5.2 10h-10.4zM377.48 386.92l5.2 10h-10.4zM378.62 386.4l5.2 10h-10.4zM379.76 387.48l5.2 10h-10.4zM380.91 386.89l5.2 10h-10.4zM382.05 386.58l5.2 10h-10.4zM383.19 385.78l5.2 10h-10.4zM384.33 385.44l5.2 10h-10.4zM385.47 384.7l5.2 10h-10.4zM386.61 383.38l5.2 10h-10.4zM388 349.57l5.2 10h-10.4zM390.6 282.75l5.2 10h-10.4zM390.6 285.15l5.2 10h-10.4zM392 331.51l5.2 10h-10.4zM393 376.66l5.2 10h-10.4zM394.6 383.75l5.2 10h-10.4zM395.74 384.57l5.2 10h-10.4zM396.88 385.18l5.2 10h-10.4zM398.03 385.72l5.2 10h-10.4zM399.17 386.18l5.2 10h-10.4zM400.31 385.02l5.2 10h-10.4zM401.45 385.36l5.2 10h-10.4zM402.59 386.63l5.2 10h-10.4zM403.73 385.97l5.2 10h-10.4zM404.87 386.16l5.2 10h-10.4zM406.02 385.97l5.2 10h-10.4zM407.16 385.62l5.2 10h-10.4zM408.3 384.72l5.2 10h-10.4zM409.44 384.22l5.2 10h-10.4zM411 374.85l5.2 10h-10.4zM414 309.23l5.2 10h-10.4zM415 264.69l5.2 10h-10.4zM415 280.94l5.2 10h-10.4zM417 347.76l5.2 10h-10.4zM418.57 382.84l5.2 10h-10.4zM419.71 384.19l5.2 10h-10.4zM420.85 384.87l5.2 10h-10.4zM422 385.89l5.2 10h-10.4zM423.14 385.75l5.2 10h-10.4zM424.28 385.91l5.2 10h-10.4zM425.42 386.76l5.2 10h-10.4zM426.56 387.48l5.2 10h-10.4zM427.7 387.53l5.2 10h-10.4zM428.84 387.38l5.2 10h-10.4zM429.99 387.15l5.2 10h-10.4zM431.13 386.98l5.2 10h-10.4zM432.27 387.7l5.2 10h-10.4zM433.41 387.11l5.2 10h-10.4zM434.55 387.39l5.2 10h-10.4zM435.69 387.43l5.2 10h-10.4zM436.83 386.47l5.2 10h-10.4zM437.98 383.97l5.2 10h-10.4zM439.12 380.88l5.2 10h-10.4zM440.26 380.32l5.2 10h-10.4zM441.4 381.65l5.2 10h-10.4zM442.54 384.9l5.2 10h-10.4zM443.68 387.26l5.2 10h-10.4zM444.82 387.64l5.2 10h-10.4zM445.97 387.62l5.2 10h-10.4zM447.11 388.64l5.2 10h-10.4zM448.25 388.1l5.2 10h-10.4zM449.39 388.11l5.2 10h-10.4zM450.53 387.4l5.2 10h-10.4zM451.67 387.32l5.2 10h-10.4zM452.81 388.2l5.2 10h-10.4zM453.95 387.39l5.2 10h-10.4zM455.1 387.55l5.2 10h-10.4zM456.24 388.38l5.2 10h-10.4zM457.38 388.06l5.2 10h-10.4zM458.52 388.57l5.2 10h-10.4zM459.66 387.38l5.2 10h-10.4zM460.8 387.18l5.2 10h-10.4zM461.94 385.73l5.2 10h-10.4zM463.09 384.21l5.2 10h-10.4zM464.23 383.25l5.2 10h-10.4zM465.37 383.56l5.2 10h-10.4zM466.51 385.38l5.2 10h-10.4zM467.65 387.49l5.2 10h-10.4zM468.79 387.4l5.2 10h-10.4zM469.93 388.47l5.2 10h-10.4zM471.08 388.24l5.2 10h-10.4zM472.22 387.18l5.2 10h-10.4zM473.36 388.24l5.2 10h-10.4zM474.5 388.06l5.2 10h-10.4zM475.64 387.92l5.2 10h-10.4zM476.78 386.53l5.2 10h-10.4zM477.92 387.43l5.2 10h-10.4zM479.07 387.41l5.2 10h-10.4zM480.21 385.8l5.2 10h-10.4zM481.35 386.5l5.2 10h-10.4zM482.49 384.81l5.2 10h-10.4zM483.63 384.35l5.2 10h-10.4zM484.77 383.17l5.2 10h-10.4zM485.91 381.87l5.2 10h-10.4zM487 341.74l5.2 10h-10.4zM489 255.66l5.2 10h-10.4zM489.5 258.06l5.2 10h-10.4zM490 315.86l5.2 10h-10.4zM493 371.84l5.2 10h-10.4zM493.9 383.69l5.2 10h-10.4zM495.05 384.17l5.2 10h-10.4zM496.19 386l5.2 10h-10.4zM497.33 385.31l5.2 10h-10.4zM498.47 386.03l5.2 10h-10.4zM499.61 385.93l5.2 10h-10.4zM500.75 387l5.2 10h-10.4zM501.89 386.04l5.2 10h-10.4zM503.04 385.71l5.2 10h-10.4zM504.18 386.95l5.2 10h-10.4zM505.32 386.32l5.2 10h-10.4zM506.46 385.6l5.2 10h-10.4zM507.6 384.7l5.2 10h-10.4zM508.74 384.96l5.2 10h-10.4zM509.88 384.22l5.2 10h-10.4zM511 376.66l5.2 10h-10.4zM512 326.09l5.2 10h-10.4zM513 293.58l5.2 10h-10.4zM513 299.6l5.2 10h-10.4zM516 356.19l5.2 10h-10.4zM516.73 384.01l5.2 10h-10.4zM517.87 384.42l5.2 10h-10.4zM519.01 385.02l5.2 10h-10.4zM520.16 386.22l5.2 10h-10.4zM521.3 386.76l5.2 10h-10.4zM522.44 387.1l5.2 10h-10.4zM523.58 387.47l5.2 10h-10.4zM524.72 387.6l5.2 10h-10.4zM525.86 388.31l5.2 10h-10.4zM527 387.81l5.2 10h-10.4zM528.15 387.19l5.2 10h-10.4zM529.29 388.18l5.2 10h-10.4zM530.43 387.74l5.2 10h-10.4zM531.57 388.73l5.2 10h-10.4zM532.71 387.91l5.2 10h-10.4zM533.85 387.58l5.2 10h-10.4zM534.99 386.68l5.2 10h-10.4zM536.14 384.39l5.2 10h-10.4zM537.28 380.95l5.2 10h-10.4zM538.42 378.78l5.2 10h-10.4zM539.56 379.9l5.2 10h-10.4zM540.7 384.6l5.2 10h-10.4zM541.84 387.53l5.2 10h-10.4zM542.98 387.82l5.2 10h-10.4zM544.13 387.95l5.2 10h-10.4zM545.27 388.68l5.2 10h-10.4zM546.41 388.83l5.2 10h-10.4zM547.55 388.43l5.2 10h-10.4zM548.69 389.3l5.2 10h-10.4zM549.83 389.2l5.2 10h-10.4zM550.97 389.33l5.2 10h-10.4zM552.12 388.75l5.2 10h-10.4zM553.26 389.2l5.2 10h-10.4zM554.4 389.35l5.2 10h-10.4zM555.54 388.65l5.2 10h-10.4zM556.68 388.24l5.2 10h-10.4zM557.82 389.22l5.2 10h-10.4zM558.96 388.36l5.2 10h-10.4zM560.11 388.24l5.2 10h-10.4zM561.25 386.73l5.2 10h-10.4zM562.39 386.66l5.2 10h-10.4zM563.53 387.46l5.2 10h-10.4zM564.67 388.34l5.2 10h-10.4zM565.81 389.31l5.2 10h-10.4zM566.95 388.89l5.2 10h-10.4zM568.09 389.11l5.2 10h-10.4zM569.24 389.42l5.2 10h-10.4zM570.38 389.07l5.2 10h-10.4zM571.52 389.07l5.2 10h-10.4zM572.66 388.28l5.2 10h-10.4zM573.8 389.16l5.2 10h-10.4zM574.94 387.69l5.2 10h-10.4zM576.08 388.32l5.2 10h-10.4zM577.23 387.89l5.2 10h-10.4zM578.37 387.79l5.2 10h-10.4zM579.51 386.81l5.2 10h-10.4zM580.65 386.3l5.2 10h-10.4zM581.79 386l5.2 10h-10.4zM582.93 385.21l5.2 10h-10.4zM584.07 383.7l5.2 10h-10.4zM585 341.74l5.2 10h-10.4zM587.2 246.63l5.2 10h-10.4zM587.2 250.84l5.2 10h-10.4zM589 314.05l5.2 10h-10.4zM590 373.05l5.2 10h-10.4zM590.92 383.36l5.2 10h-10.4zM592.06 385.17l5.2 10h-10.4zM593.21 385.52l5.2 10h-10.4zM594.35 385.84l5.2 10h-10.4zM595.49 387.09l5.2 10h-10.4zM596.63 387.8l5.2 10h-10.4zM597.77 388.02l5.2 10h-10.4zM598.91 387.38l5.2 10h-10.4zM600.05 387.49l5.2 10h-10.4zM601.2 386.99l5.2 10h-10.4zM602.34 387.01l5.2 10h-10.4zM603.48 387.72l5.2 10h-10.4zM604.62 387.42l5.2 10h-10.4zM605.76 386.77l5.2 10h-10.4zM606.9 386.16l5.2 10h-10.4zM608.04 384.43l5.2 10h-10.4zM609 374.85l5.2 10h-10.4zM609 315.25l5.2 10h-10.4zM611 282.14l5.2 10h-10.4zM611 292.38l5.2 10h-10.4zM614 355.59l5.2 10h-10.4zM614.89 384.37l5.2 10h-10.4zM616.03 385.32l5.2 10h-10.4zM617.18 387.16l5.2 10h-10.4zM618.32 386.86l5.2 10h-10.4zM619.46 388.23l5.2 10h-10.4zM620.6 388.45l5.2 10h-10.4zM621.74 388.27l5.2 10h-10.4zM622.88 389.52l5.2 10h-10.4zM624.02 389.7l5.2 10h-10.4zM625.16 388.69l5.2 10h-10.4zM626.31 389.67l5.2 10h-10.4zM627.45 389.68l5.2 10h-10.4zM628.59 389.42l5.2 10h-10.4zM629.73 389.34l5.2 10h-10.4zM630.87 390.4l5.2 10h-10.4zM632.01 389.64l5.2 10h-10.4zM633.15 388.34l5.2 10h-10.4zM634.3 385.43l5.2 10h-10.4zM635.44 381.88l5.2 10h-10.4zM636.58 378.98l5.2 10h-10.4zM637.72 380.02l5.2 10h-10.4zM638.86 385l5.2 10h-10.4zM640 388.35l5.2 10h-10.4zM641.14 390.89l5.2 10h-10.4zM642.29 391.42l5.2 10h-10.4zM643.43 391.21l5.2 10h-10.4zM644.57 392.4l5.2 10h-10.4zM645.71 391.51l5.2 10h-10.4zM646.85 391.79l5.2 10h-10.4zM647.99 393.37l5.2 10h-10.4zM649.13 392.36l5.2 10h-10.4zM650.28 393.55l5.2 10h-10.4zM651.42 393.24l5.2 10h-10.4zM652.56 393.57l5.2 10h-10.4zM653.7 394.6l5.2 10h-10.4z" fill="#0000ff"/>
</g>
<text transform="translate(73.9,401.9) scale(0.2300,0.2240)" font-size="100" text-anchor="end">0</text>
<text transform="translate(73.9,341.6) scale(0.2300,0.2240)" font-size="100" text-anchor="end">1</text>
<text transform="translate(73.9,281.3) scale(0.2300,0.2240)" font-size="100" text-anchor="end">2</text>
<text transform="translate(73.9,221) scale(0.2300,0.2240)" font-size="100" text-anchor="end">3</text>
<text transform="translate(73.9,160.7) scale(0.2300,0.2240)" font-size="100" text-anchor="end">4</text>
<text transform="translate(73.9,100.4) scale(0.2300,0.2240)" font-size="100" text-anchor="end">5</text>
<text transform="translate(73.9,40.1) scale(0.2300,0.2240)" font-size="100" text-anchor="end">6</text>
<text transform="translate(83,452.6) scale(0.2240,0.2140)" font-size="100" text-anchor="middle">0</text>
<text transform="translate(197.14,452.6) scale(0.2240,0.2140)" font-size="100" text-anchor="middle">100</text>
<text transform="translate(311.28,452.6) scale(0.2240,0.2140)" font-size="100" text-anchor="middle">200</text>
<text transform="translate(425.42,452.6) scale(0.2240,0.2140)" font-size="100" text-anchor="middle">300</text>
<text transform="translate(539.56,452.6) scale(0.2240,0.2140)" font-size="100" text-anchor="middle">400</text>
<text transform="translate(653.7,452.6) scale(0.2240,0.2140)" font-size="100" text-anchor="middle">500</text>
<text transform="translate(280.58,489.6) scale(0.2280,0.2362)" font-size="100">Frequency (MHz)</text>
<text transform="translate(1.38,27.09) scale(0.2692,0.3149)" font-size="100" stroke="#000" stroke-width="1.8">(</text>
<text transform="translate(13.6,28.95) scale(0.3000,0.3509)" font-size="100" stroke="#000" stroke-width="1.8">a</text>
<text transform="translate(35.63,27.09) scale(0.2731,0.3149)" font-size="100" stroke="#000" stroke-width="1.8">)</text>
<text transform="translate(24.7,247.23) rotate(-90) scale(0.2700,0.2275)" font-size="100">I</text>
<text transform="translate(33.05,239.97) rotate(-90) scale(0.2175,0.2455)" font-size="100">ae</text>
<text transform="translate(25.27,209.52) rotate(-90) scale(0.2363,0.2298)" font-size="100">(μA)</text>
<path d="M100 29.3H148" stroke="#ff0000" stroke-width="2"/>
<rect x="120.1" y="25" width="8.6" height="8.6" fill="#ff0000"/>
<text transform="translate(153.07,36.2) scale(0.2059,0.1814)" font-size="100" text-anchor="start">+20.0 dBm</text>
<path d="M100 54.8H148" stroke="#00ff00" stroke-width="2"/>
<circle cx="124.4" cy="54.8" r="4.6" fill="#00ff00"/>
<text transform="translate(153.07,61.5) scale(0.2059,0.1814)" font-size="100" text-anchor="start">+18.0 dBm</text>
<path d="M100 79.9H148" stroke="#0000ff" stroke-width="2"/>
<path d="M124.4 74.3L129.6 84.1H119.2Z" fill="#0000ff"/>
<text transform="translate(153.07,86.4) scale(0.2059,0.1814)" font-size="100" text-anchor="start">+16.0 dBm</text>
<rect x="88.2" y="512.5" width="570.4" height="421.3" fill="none" stroke="#000" stroke-width="1.6"/>
<path d="M278.33 933.5v-9M278.33 512.5v9M468.47 933.5v-9M468.47 512.5v9M183.27 933.5v-5M183.27 512.5v5M373.4 933.5v-5M373.4 512.5v5M563.53 933.5v-5M563.53 512.5v5M88.2 863.33h9M658.6 863.33h-9M88.2 793.17h9M658.6 793.17h-9M88.2 723h9M658.6 723h-9M88.2 652.83h9M658.6 652.83h-9M88.2 582.67h9M658.6 582.67h-9M88.2 898.42h5M658.6 898.42h-5M88.2 828.25h5M658.6 828.25h-5M88.2 758.08h5M658.6 758.08h-5M88.2 687.92h5M658.6 687.92h-5M88.2 617.75h5M658.6 617.75h-5M88.2 547.58h5M658.6 547.58h-5" stroke="#000" stroke-width="1.6" fill="none"/>
<defs><clipPath id="cpb"><rect x="87.4" y="511.7" width="571.2" height="422.9"/></clipPath></defs>
<g clip-path="url(#cpb)">
<path d="M88.2 935.5L658.6 706.4" stroke="#ff0000" stroke-width="2" fill="none"/>
<path d="M88.2 933.6L658.6 913.8" stroke="#000" stroke-width="2" fill="none"/>
<path d="M87.6 933.5L334.6 512.5" stroke="#00ff00" stroke-width="2" fill="none"/>
<path d="M87.5 933.5L209.0 512.5" stroke="#0000ff" stroke-width="2" fill="none"/>
<path d="M87.0 933.5L193.7 512.5" stroke="#808000" stroke-width="2" fill="none"/>
<path d="M88.0 933.5L95.0 512.5" stroke="#ff00ff" stroke-width="2" fill="none"/>
<path d="M87.8 928.8h8.4v8.4h-8.4zM91.8 928.4h8.4v8.4h-8.4zM95.8 928.1h8.4v8.4h-8.4zM101.8 927.6h8.4v8.4h-8.4zM110.0 927.0h8.4v8.4h-8.4zM124.8 926.5h8.4v8.4h-8.4zM150.4 925.6h8.4v8.4h-8.4zM191.2 925.3h8.4v8.4h-8.4zM258.0 923.0h8.4v8.4h-8.4zM353.6 919.6h8.4v8.4h-8.4zM556.1 914.2h8.4v8.4h-8.4z" fill="#000"/>
<path d="M86.8 931.5a4.7 4.7 0 1 0 9.4 0a4.7 4.7 0 1 0 -9.4 0zM89.8 930.3a4.7 4.7 0 1 0 9.4 0a4.7 4.7 0 1 0 -9.4 0zM94.1 928.0a4.7 4.7 0 1 0 9.4 0a4.7 4.7 0 1 0 -9.4 0zM103.0 925.1a4.7 4.7 0 1 0 9.4 0a4.7 4.7 0 1 0 -9.4 0zM115.1 920.8a4.7 4.7 0 1 0 9.4 0a4.7 4.7 0 1 0 -9.4 0zM133.5 913.5a4.7 4.7 0 1 0 9.4 0a4.7 4.7 0 1 0 -9.4 0zM163.2 902.0a4.7 4.7 0 1 0 9.4 0a4.7 4.7 0 1 0 -9.4 0zM213.6 882.5a4.7 4.7 0 1 0 9.4 0a4.7 4.7 0 1 0 -9.4 0zM282.5 850.0a4.7 4.7 0 1 0 9.4 0a4.7 4.7 0 1 0 -9.4 0zM410.4 805.3a4.7 4.7 0 1 0 9.4 0a4.7 4.7 0 1 0 -9.4 0z" fill="#ff0000"/>
<path d="M86.0 929.0L95.0 924.2V933.8ZM88.0 925.0L97.0 920.2V929.8ZM90.5 921.5L99.5 916.7V926.3ZM93.5 916.8L102.5 912.0V921.6ZM98.3 908.0L107.3 903.2V912.8ZM106.3 892.8L115.3 888.0V897.6ZM123.9 868.8L132.9 864.0V873.6ZM147.1 822.4L156.1 817.6V827.2ZM175.0 775.9L184.0 771.1V780.7Z" fill="none" stroke="#00ff00" stroke-width="1.3"/>
<path d="M89.5 923.7L94.8 929.0L89.5 934.3L84.2 929.0ZM91.0 919.7L96.3 925.0L91.0 930.3L85.7 925.0ZM92.5 913.7L97.8 919.0L92.5 924.3L87.2 919.0ZM95.6 905.1L100.9 910.4L95.6 915.7L90.3 910.4ZM98.8 891.5L104.1 896.8L98.8 902.1L93.5 896.8ZM104.9 868.3L110.2 873.6L104.9 878.9L99.6 873.6ZM115.1 822.7L120.4 828.0L115.1 833.3L109.8 828.0ZM131.5 778.5L136.8 783.8L131.5 789.1L126.2 783.8ZM157.1 693.0L162.4 698.3L157.1 703.6L151.8 698.3Z" fill="none" stroke="#0000ff" stroke-width="1.3"/>
<path d="M90.8 892.0L92.2 895.7L96.1 895.9L93.0 898.3L94.1 902.1L90.8 899.9L87.5 902.1L88.6 898.3L85.5 895.9L89.4 895.7ZM90.5 868.8L91.9 872.5L95.8 872.7L92.7 875.1L93.8 878.9L90.5 876.7L87.2 878.9L88.3 875.1L85.2 872.7L89.1 872.5ZM90.5 831.2L91.9 834.9L95.8 835.1L92.7 837.5L93.8 841.3L90.5 839.1L87.2 841.3L88.3 837.5L85.2 835.1L89.1 834.9ZM90.8 773.4L92.2 777.1L96.1 777.3L93.0 779.7L94.1 783.5L90.8 781.3L87.5 783.5L88.6 779.7L85.5 777.3L89.4 777.1ZM91.3 686.8L92.7 690.5L96.6 690.7L93.5 693.1L94.6 696.9L91.3 694.7L88.0 696.9L89.1 693.1L86.0 690.7L89.9 690.5ZM94.3 562.9L95.7 566.6L99.6 566.8L96.5 569.2L97.6 573.0L94.3 570.8L91.0 573.0L92.1 569.2L89.0 566.8L92.9 566.6Z" fill="#ff00ff"/>
<path d="M88.5 926.3L93.5 935.7H83.5ZM89.2 923.3L94.2 932.7H84.2ZM89.8 919.8L94.8 929.2H84.8ZM90.6 915.8L95.6 925.2H85.6ZM92.0 910.8L97.0 920.2H87.0ZM94.3 898.0L99.3 907.4H89.3ZM99.1 879.6L104.1 889.0H94.1ZM105.2 851.6L110.2 861.0H100.2ZM116.4 805.2L121.4 814.6H111.4ZM133.1 734.6L138.1 744.0H128.1ZM162.7 638.8L167.7 648.2H157.7Z" fill="none" stroke="#808000" stroke-width="1.3"/>
</g>
<text transform="translate(79.1,939.9) scale(0.2280,0.2070)" font-size="100" text-anchor="end">0</text>
<text transform="translate(79.1,869.73) scale(0.2280,0.2070)" font-size="100" text-anchor="end">1</text>
<text transform="translate(79.1,799.57) scale(0.2280,0.2070)" font-size="100" text-anchor="end">2</text>
<text transform="translate(79.1,729.4) scale(0.2280,0.2070)" font-size="100" text-anchor="end">3</text>
<text transform="translate(79.1,659.23) scale(0.2280,0.2070)" font-size="100" text-anchor="end">4</text>
<text transform="translate(79.1,589.07) scale(0.2280,0.2070)" font-size="100" text-anchor="end">5</text>
<text transform="translate(79.1,518.9) scale(0.2280,0.2070)" font-size="100" text-anchor="end">6</text>
<text transform="translate(87.6,959.4) scale(0.2046,0.2130)" font-size="100" text-anchor="middle">0.0</text>
<text transform="translate(277.73,959.4) scale(0.2046,0.2130)" font-size="100" text-anchor="middle">0.1</text>
<text transform="translate(467.87,959.4) scale(0.2046,0.2130)" font-size="100" text-anchor="middle">0.2</text>
<text transform="translate(658,959.4) scale(0.2046,0.2130)" font-size="100" text-anchor="middle">0.3</text>
<text transform="translate(277.97,993.4) scale(0.2068,0.2087)" font-size="100">SAW Intensity (W/m)</text>
<text transform="translate(7.67,530.06) scale(0.2885,0.3160)" font-size="100" stroke="#000" stroke-width="1.8">(</text>
<text transform="translate(19.81,532.6) scale(0.3705,0.3507)" font-size="100">b</text>
<text transform="translate(42.83,530.06) scale(0.2731,0.3160)" font-size="100" stroke="#000" stroke-width="1.8">)</text>
<text transform="translate(50.8,761.34) rotate(-90) scale(0.2600,0.2130)" font-size="100">I</text>
<text transform="translate(57.87,755.99) rotate(-90) scale(0.2223,0.2309)" font-size="100">ae</text>
<text transform="translate(50.87,725.22) rotate(-90) scale(0.2039,0.2064)" font-size="100">(μA)</text>
<rect x="531.6" y="766.0" width="8.4" height="8.4" fill="#000"/>
<circle cx="535.8" cy="795.5" r="4.7" fill="#ff0000"/>
<path d="M531.3 820.7L540.3 815.9V825.5Z" fill="none" stroke="#00ff00" stroke-width="1.3"/>
<path d="M535.8 840.7L541.1 846.0L535.8 851.2L530.5 846.0Z" fill="none" stroke="#0000ff" stroke-width="1.3"/>
<path d="M535.8 866.0L540.8 875.4H530.8Z" fill="none" stroke="#808000" stroke-width="1.3"/>
<path d="M535.8 890.9L537.2 894.6L541.1 894.7L538.0 897.2L539.1 901.0L535.8 898.8L532.5 901.0L533.6 897.2L530.5 894.7L534.4 894.6Z" fill="#ff00ff"/>
<text transform="translate(564.34,777.1) scale(0.2080,0.2060)" font-size="100" text-anchor="start">11 MHz</text>
<text transform="translate(565.17,802.35) scale(0.2080,0.2060)" font-size="100" text-anchor="start">33 MHz</text>
<text transform="translate(564.96,827.6) scale(0.2080,0.2060)" font-size="100" text-anchor="start">97 MHz</text>
<text transform="translate(564.34,852.85) scale(0.2080,0.2060)" font-size="100" text-anchor="start">183 MHz</text>
<text transform="translate(564.96,878.1) scale(0.2080,0.2060)" font-size="100" text-anchor="start">270 MHz</text>
<text transform="translate(565.17,903.35) scale(0.2080,0.2060)" font-size="100" text-anchor="start">356 MHz</text>
<rect x="348.8" y="527.0" width="240.5" height="177.0" fill="#fff"/>
<rect x="281" y="572" width="33" height="90" fill="#fff"/>
<rect x="319.5" y="514" width="28" height="24.5" fill="#fff"/>
<path d="M348.8 690.4L582.1 531.1" stroke="#000" stroke-width="1.5" stroke-dasharray="6 4" fill="none"/>
<path d="M352.6 678.8h10v10h-10zM370.3 667.3h10v10h-10zM421.6 631.8h10v10h-10zM490.5 585.2h10v10h-10zM560.2 537.6h10v10h-10z" fill="#000"/>
<rect x="348.8" y="527" width="240.5" height="177" fill="none" stroke="#333" stroke-width="1.1"/>
<path d="M428.97 704v-3M428.97 527v3M509.13 704v-3M509.13 527v3M388.88 704v-1.8M388.88 527v1.8M469.05 704v-1.8M469.05 527v1.8M549.22 704v-1.8M549.22 527v1.8M348.8 690.4h3M589.3 690.4h-3M348.8 635.66h3M589.3 635.66h-3M348.8 580.92h3M589.3 580.92h-3M348.8 663.03h1.8M589.3 663.03h-1.8M348.8 608.29h1.8M589.3 608.29h-1.8M348.8 553.55h1.8M589.3 553.55h-1.8" stroke="#333" stroke-width="1.1" fill="none"/>
<text transform="translate(344.8,697.6) scale(0.2200,0.2280)" font-size="100" text-anchor="end">0.0</text>
<text transform="translate(344.8,642.86) scale(0.2200,0.2280)" font-size="100" text-anchor="end">0.1</text>
<text transform="translate(344.8,588.12) scale(0.2200,0.2280)" font-size="100" text-anchor="end">0.2</text>
<text transform="translate(344.8,533.38) scale(0.2200,0.2280)" font-size="100" text-anchor="end">0.3</text>
<text transform="translate(349.1,725.6) scale(0.2170,0.2130)" font-size="100" text-anchor="middle">0</text>
<text transform="translate(429.27,725.6) scale(0.2170,0.2130)" font-size="100" text-anchor="middle">100</text>
<text transform="translate(509.43,725.6) scale(0.2170,0.2130)" font-size="100" text-anchor="middle">200</text>
<text transform="translate(589.6,725.6) scale(0.2170,0.2130)" font-size="100" text-anchor="middle">300</text>
<text transform="translate(304.5,657.52) rotate(-90) scale(0.2800,0.2391)" font-size="100">I</text>
<text transform="translate(312.76,650.45) rotate(-90) scale(0.2379,0.2364)" font-size="100">ae</text>
<text transform="translate(304.65,617.89) rotate(-90) scale(0.2318,0.2309)" font-size="100">(μA)</text>
<text transform="translate(435.08,674.7) scale(0.2304,0.2319)" font-size="100" font-style="italic">I</text>
<text transform="translate(440.99,682.56) scale(0.1416,0.1408)" font-size="100">SAW</text>
<text transform="translate(478.85,674.9) scale(0.2304,0.2260)" font-size="100" text-anchor="start">= 3 mW/m</text>
<text transform="translate(416.09,755.11) scale(0.2281,0.2139)" font-size="100" font-style="italic">f</text>
<text transform="translate(421.59,761.86) scale(0.1411,0.1408)" font-size="100">SAW</text>
<text transform="translate(459.48,754.96) scale(0.2369,0.2255)" font-size="100">(MHz)</text>
</svg>
</body></html>
